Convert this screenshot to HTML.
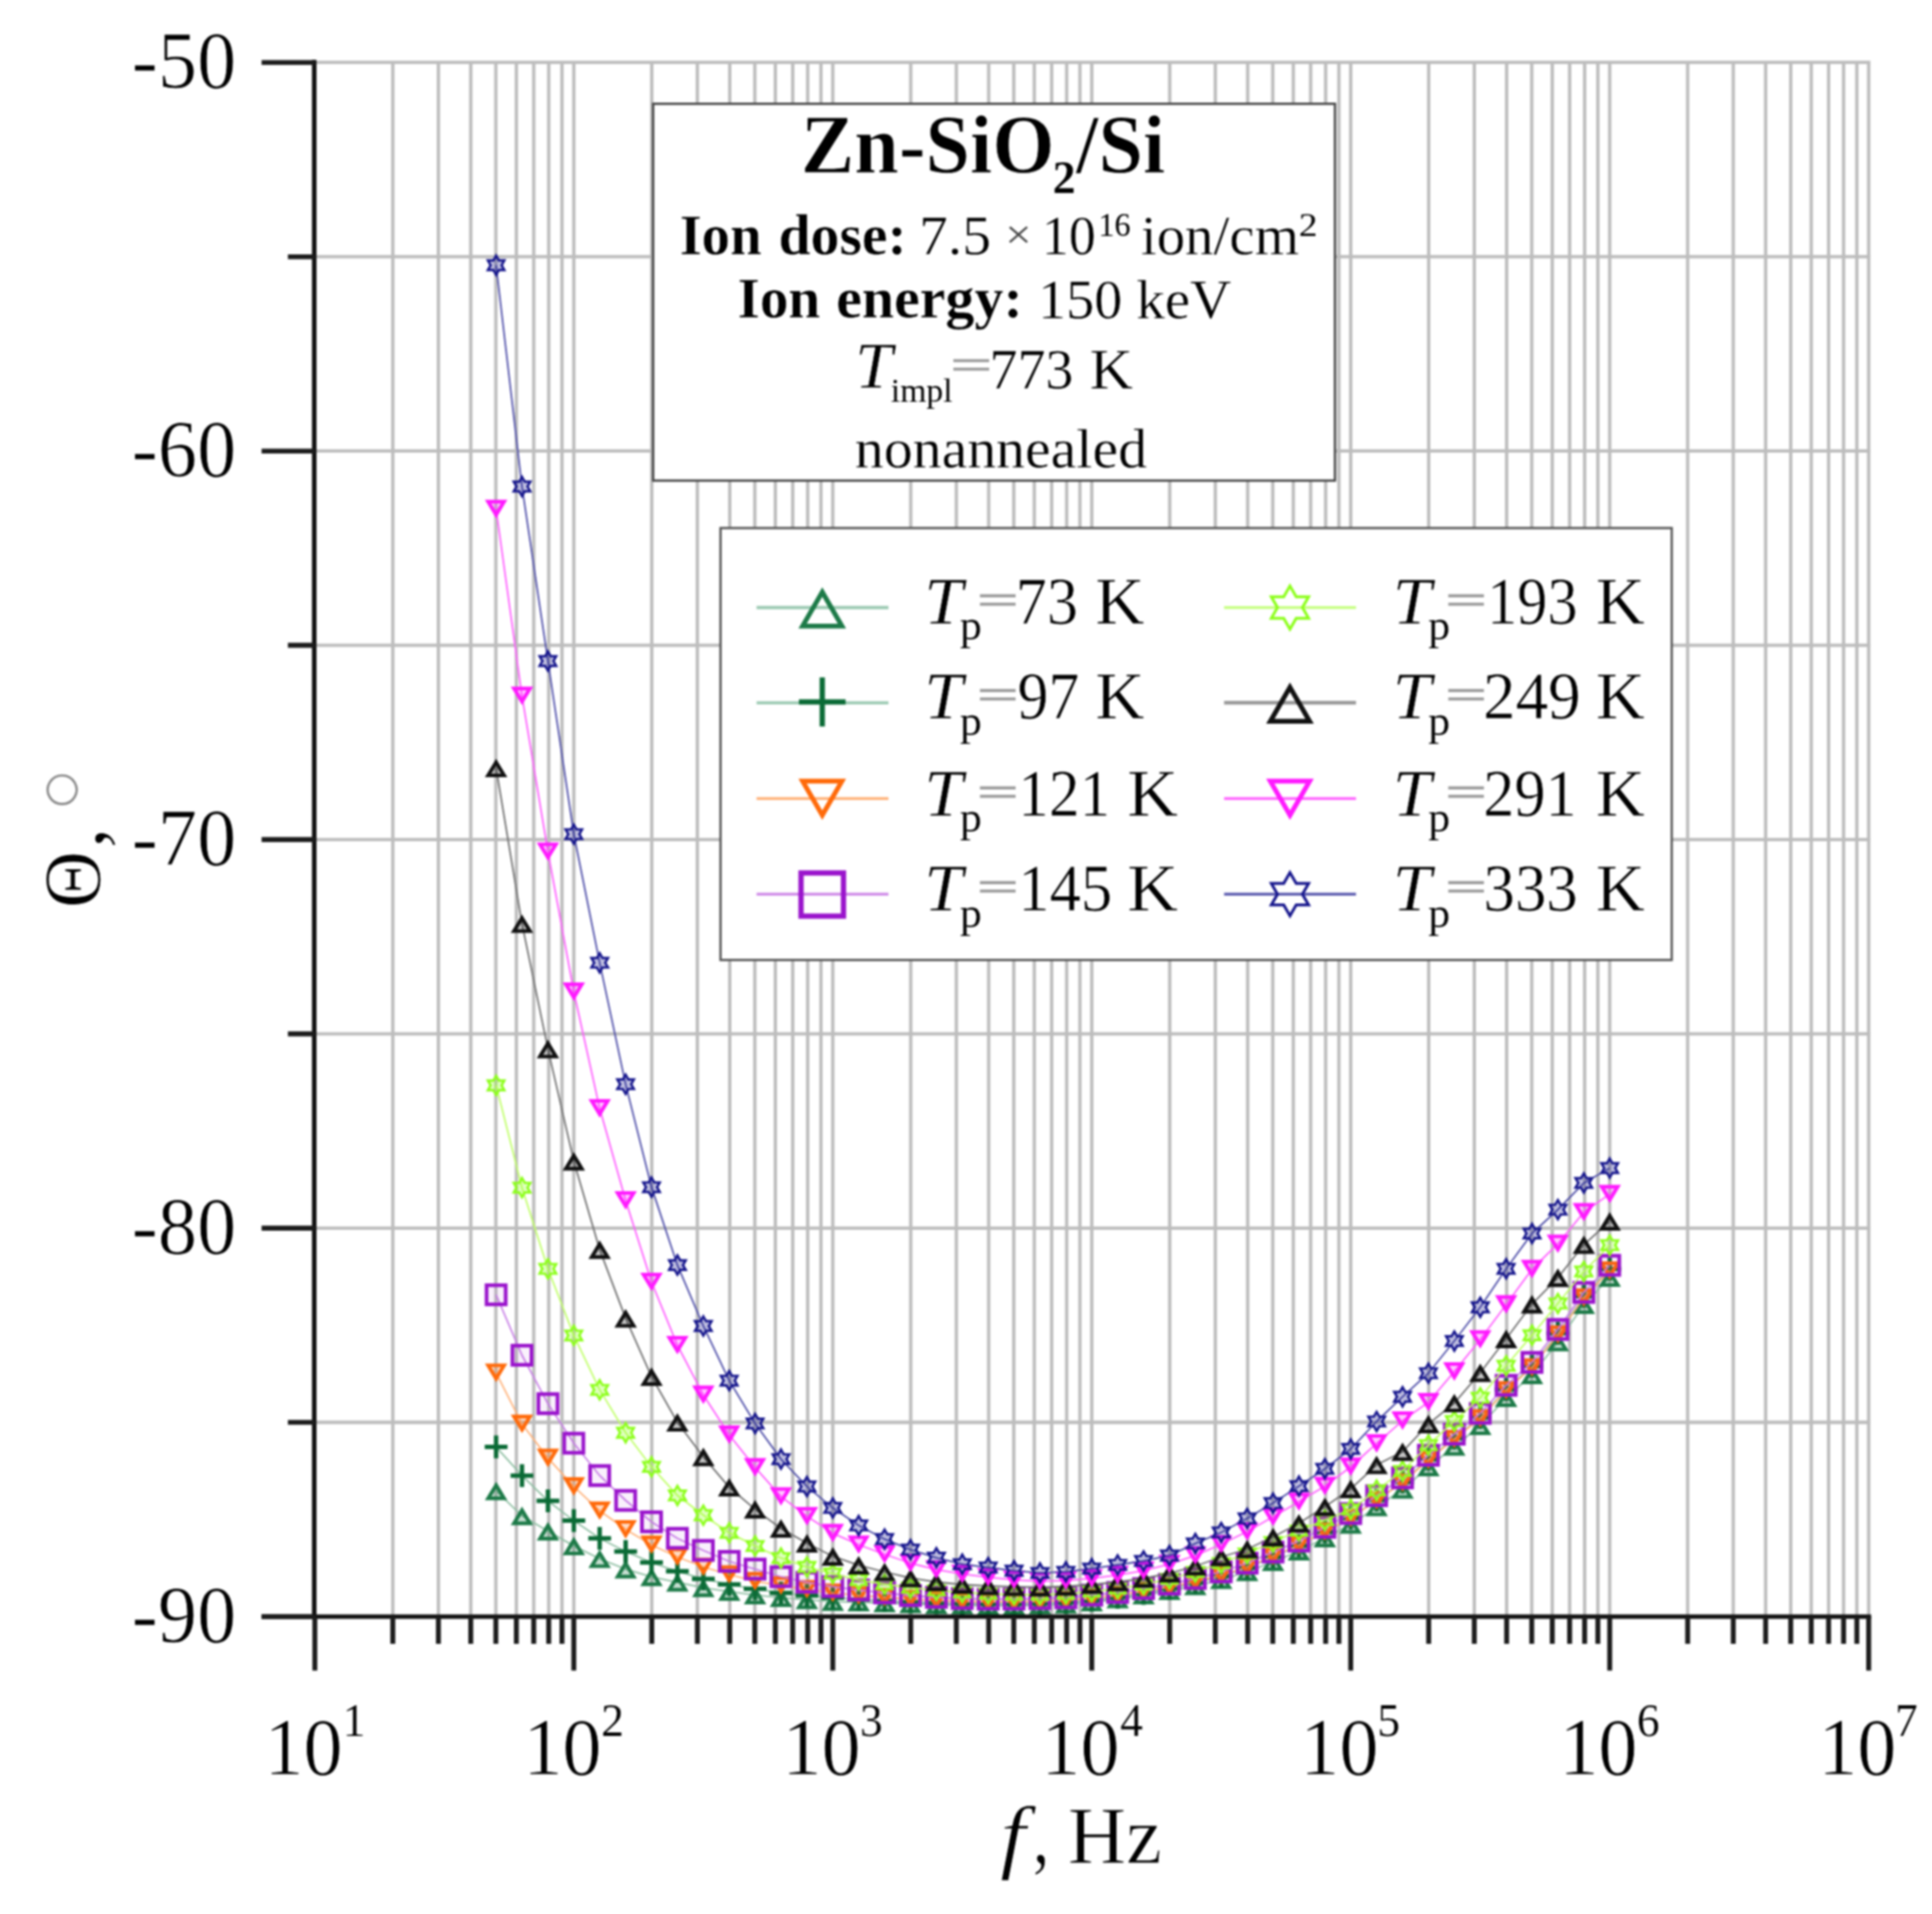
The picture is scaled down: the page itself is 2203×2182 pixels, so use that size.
<!DOCTYPE html><html><head><meta charset="utf-8"><title>Zn-SiO2/Si phase angle</title>
<style>html,body{margin:0;padding:0;background:#fff}svg{display:block}svg>g{filter:blur(1.0px)}</style></head><body>
<svg width="2203" height="2182" viewBox="0 0 2203 2182" font-family="'Liberation Serif','DejaVu Serif',serif">
<rect width="2203" height="2182" fill="#fff"/>
<g>
<path d="M359.0,69.2V1843.0M447.9,69.2V1843.0M499.9,69.2V1843.0M536.8,69.2V1843.0M565.4,69.2V1843.0M588.8,69.2V1843.0M608.6,69.2V1843.0M625.7,69.2V1843.0M640.8,69.2V1843.0M654.3,69.2V1843.0M743.2,69.2V1843.0M795.2,69.2V1843.0M832.1,69.2V1843.0M860.7,69.2V1843.0M884.1,69.2V1843.0M903.9,69.2V1843.0M921.0,69.2V1843.0M936.1,69.2V1843.0M949.6,69.2V1843.0M1038.5,69.2V1843.0M1090.5,69.2V1843.0M1127.4,69.2V1843.0M1156.0,69.2V1843.0M1179.4,69.2V1843.0M1199.2,69.2V1843.0M1216.3,69.2V1843.0M1231.4,69.2V1843.0M1244.9,69.2V1843.0M1333.8,69.2V1843.0M1385.8,69.2V1843.0M1422.7,69.2V1843.0M1451.3,69.2V1843.0M1474.7,69.2V1843.0M1494.5,69.2V1843.0M1511.6,69.2V1843.0M1526.7,69.2V1843.0M1540.2,69.2V1843.0M1629.1,69.2V1843.0M1681.1,69.2V1843.0M1718.0,69.2V1843.0M1746.6,69.2V1843.0M1770.0,69.2V1843.0M1789.8,69.2V1843.0M1806.9,69.2V1843.0M1822.0,69.2V1843.0M1835.5,69.2V1843.0M1924.4,69.2V1843.0M1976.4,69.2V1843.0M2013.3,69.2V1843.0M2041.9,69.2V1843.0M2065.3,69.2V1843.0M2085.1,69.2V1843.0M2102.2,69.2V1843.0M2117.3,69.2V1843.0M2130.8,69.2V1843.0M359.0,71.2H2132.8M359.0,292.7H2132.8M359.0,514.2H2132.8M359.0,735.6H2132.8M359.0,957.1H2132.8M359.0,1178.6H2132.8M359.0,1400.1H2132.8M359.0,1621.5H2132.8M359.0,1843.0H2132.8" stroke="#bdbdbd" stroke-width="3.8" fill="none"/>
<g><polyline points="565.7,1699.7 595.2,1728.1 624.8,1745.6 654.3,1762.4 683.8,1777.0 713.4,1788.8 742.9,1797.6 772.4,1803.8 802.0,1810.1 831.5,1814.4 861.0,1818.4 890.5,1821.4 920.1,1823.9 949.6,1825.9 979.1,1826.5 1008.7,1827.5 1038.2,1828.5 1067.7,1829.5 1097.2,1830.0 1126.8,1830.5 1156.3,1830.5 1185.8,1830.0 1215.4,1829.0 1244.9,1826.5 1274.4,1823.0 1304.0,1818.5 1333.5,1813.5 1363.0,1808.0 1392.5,1801.0 1422.1,1792.0 1451.6,1780.5 1481.1,1768.5 1510.7,1753.5 1540.2,1738.0 1569.7,1718.0 1599.3,1698.0 1628.8,1672.5 1658.3,1649.0 1687.9,1625.5 1717.4,1593.5 1746.9,1567.5 1776.4,1530.0 1806.0,1487.5 1835.5,1456.5" fill="none" stroke="#8fbfa3" stroke-width="1.8"/>
<path d="M565.7,1693.2L574.8,1708.2H556.6Z" fill="#1d7a48" fill-opacity="0.25" stroke="#1d7a48" stroke-width="4.2"/>
<path d="M595.2,1721.6L604.3,1736.6H586.1Z" fill="#1d7a48" fill-opacity="0.25" stroke="#1d7a48" stroke-width="4.2"/>
<path d="M624.8,1739.1L633.9,1754.1H615.7Z" fill="#1d7a48" fill-opacity="0.25" stroke="#1d7a48" stroke-width="4.2"/>
<path d="M654.3,1755.9L663.4,1771.0H645.2Z" fill="#1d7a48" fill-opacity="0.25" stroke="#1d7a48" stroke-width="4.2"/>
<path d="M683.8,1770.5L692.9,1785.5H674.7Z" fill="#1d7a48" fill-opacity="0.25" stroke="#1d7a48" stroke-width="4.2"/>
<path d="M713.4,1782.3L722.5,1797.3H704.3Z" fill="#1d7a48" fill-opacity="0.25" stroke="#1d7a48" stroke-width="4.2"/>
<path d="M742.9,1791.1L752.0,1806.1H733.8Z" fill="#1d7a48" fill-opacity="0.25" stroke="#1d7a48" stroke-width="4.2"/>
<path d="M772.4,1797.3L781.5,1812.3H763.3Z" fill="#1d7a48" fill-opacity="0.25" stroke="#1d7a48" stroke-width="4.2"/>
<path d="M802.0,1803.6L811.1,1818.6H792.9Z" fill="#1d7a48" fill-opacity="0.25" stroke="#1d7a48" stroke-width="4.2"/>
<path d="M831.5,1807.9L840.6,1823.0H822.4Z" fill="#1d7a48" fill-opacity="0.25" stroke="#1d7a48" stroke-width="4.2"/>
<path d="M861.0,1811.9L870.1,1827.0H851.9Z" fill="#1d7a48" fill-opacity="0.25" stroke="#1d7a48" stroke-width="4.2"/>
<path d="M890.5,1814.9L899.6,1830.0H881.4Z" fill="#1d7a48" fill-opacity="0.25" stroke="#1d7a48" stroke-width="4.2"/>
<path d="M920.1,1817.4L929.2,1832.5H911.0Z" fill="#1d7a48" fill-opacity="0.25" stroke="#1d7a48" stroke-width="4.2"/>
<path d="M949.6,1819.4L958.7,1834.5H940.5Z" fill="#1d7a48" fill-opacity="0.25" stroke="#1d7a48" stroke-width="4.2"/>
<path d="M979.1,1820.0L988.2,1835.0H970.0Z" fill="#1d7a48" fill-opacity="0.25" stroke="#1d7a48" stroke-width="4.2"/>
<path d="M1008.7,1821.0L1017.8,1836.0H999.6Z" fill="#1d7a48" fill-opacity="0.25" stroke="#1d7a48" stroke-width="4.2"/>
<path d="M1038.2,1822.0L1047.3,1837.0H1029.1Z" fill="#1d7a48" fill-opacity="0.25" stroke="#1d7a48" stroke-width="4.2"/>
<path d="M1067.7,1823.0L1076.8,1838.0H1058.6Z" fill="#1d7a48" fill-opacity="0.25" stroke="#1d7a48" stroke-width="4.2"/>
<path d="M1097.2,1823.5L1106.3,1838.5H1088.2Z" fill="#1d7a48" fill-opacity="0.25" stroke="#1d7a48" stroke-width="4.2"/>
<path d="M1126.8,1824.0L1135.9,1839.0H1117.7Z" fill="#1d7a48" fill-opacity="0.25" stroke="#1d7a48" stroke-width="4.2"/>
<path d="M1156.3,1824.0L1165.4,1839.0H1147.2Z" fill="#1d7a48" fill-opacity="0.25" stroke="#1d7a48" stroke-width="4.2"/>
<path d="M1185.8,1823.5L1194.9,1838.5H1176.7Z" fill="#1d7a48" fill-opacity="0.25" stroke="#1d7a48" stroke-width="4.2"/>
<path d="M1215.4,1822.5L1224.5,1837.5H1206.3Z" fill="#1d7a48" fill-opacity="0.25" stroke="#1d7a48" stroke-width="4.2"/>
<path d="M1244.9,1820.0L1254.0,1835.0H1235.8Z" fill="#1d7a48" fill-opacity="0.25" stroke="#1d7a48" stroke-width="4.2"/>
<path d="M1274.4,1816.5L1283.5,1831.5H1265.3Z" fill="#1d7a48" fill-opacity="0.25" stroke="#1d7a48" stroke-width="4.2"/>
<path d="M1304.0,1812.0L1313.1,1827.0H1294.9Z" fill="#1d7a48" fill-opacity="0.25" stroke="#1d7a48" stroke-width="4.2"/>
<path d="M1333.5,1807.0L1342.6,1822.0H1324.4Z" fill="#1d7a48" fill-opacity="0.25" stroke="#1d7a48" stroke-width="4.2"/>
<path d="M1363.0,1801.5L1372.1,1816.5H1353.9Z" fill="#1d7a48" fill-opacity="0.25" stroke="#1d7a48" stroke-width="4.2"/>
<path d="M1392.5,1794.5L1401.6,1809.5H1383.5Z" fill="#1d7a48" fill-opacity="0.25" stroke="#1d7a48" stroke-width="4.2"/>
<path d="M1422.1,1785.5L1431.2,1800.5H1413.0Z" fill="#1d7a48" fill-opacity="0.25" stroke="#1d7a48" stroke-width="4.2"/>
<path d="M1451.6,1774.0L1460.7,1789.0H1442.5Z" fill="#1d7a48" fill-opacity="0.25" stroke="#1d7a48" stroke-width="4.2"/>
<path d="M1481.1,1762.0L1490.2,1777.0H1472.0Z" fill="#1d7a48" fill-opacity="0.25" stroke="#1d7a48" stroke-width="4.2"/>
<path d="M1510.7,1747.0L1519.8,1762.0H1501.6Z" fill="#1d7a48" fill-opacity="0.25" stroke="#1d7a48" stroke-width="4.2"/>
<path d="M1540.2,1731.5L1549.3,1746.5H1531.1Z" fill="#1d7a48" fill-opacity="0.25" stroke="#1d7a48" stroke-width="4.2"/>
<path d="M1569.7,1711.5L1578.8,1726.5H1560.6Z" fill="#1d7a48" fill-opacity="0.25" stroke="#1d7a48" stroke-width="4.2"/>
<path d="M1599.3,1691.5L1608.4,1706.5H1590.2Z" fill="#1d7a48" fill-opacity="0.25" stroke="#1d7a48" stroke-width="4.2"/>
<path d="M1628.8,1666.0L1637.9,1681.0H1619.7Z" fill="#1d7a48" fill-opacity="0.25" stroke="#1d7a48" stroke-width="4.2"/>
<path d="M1658.3,1642.5L1667.4,1657.5H1649.2Z" fill="#1d7a48" fill-opacity="0.25" stroke="#1d7a48" stroke-width="4.2"/>
<path d="M1687.9,1619.0L1697.0,1634.0H1678.8Z" fill="#1d7a48" fill-opacity="0.25" stroke="#1d7a48" stroke-width="4.2"/>
<path d="M1717.4,1587.0L1726.5,1602.0H1708.3Z" fill="#1d7a48" fill-opacity="0.25" stroke="#1d7a48" stroke-width="4.2"/>
<path d="M1746.9,1561.0L1756.0,1576.0H1737.8Z" fill="#1d7a48" fill-opacity="0.25" stroke="#1d7a48" stroke-width="4.2"/>
<path d="M1776.4,1523.5L1785.5,1538.5H1767.3Z" fill="#1d7a48" fill-opacity="0.25" stroke="#1d7a48" stroke-width="4.2"/>
<path d="M1806.0,1481.0L1815.1,1496.0H1796.9Z" fill="#1d7a48" fill-opacity="0.25" stroke="#1d7a48" stroke-width="4.2"/>
<path d="M1835.5,1450.0L1844.6,1465.0H1826.4Z" fill="#1d7a48" fill-opacity="0.25" stroke="#1d7a48" stroke-width="4.2"/>
</g>
<g><polyline points="565.7,1649.6 595.2,1682.2 624.8,1711.0 654.3,1733.6 683.8,1753.7 713.4,1768.7 742.9,1781.3 772.4,1791.3 802.0,1800.0 831.5,1806.3 861.0,1811.3 890.5,1815.9 920.1,1818.9 949.6,1821.4 979.1,1823.4 1008.7,1825.0 1038.2,1826.5 1067.7,1827.5 1097.2,1828.0 1126.8,1828.5 1156.3,1828.5 1185.8,1828.0 1215.4,1827.0 1244.9,1824.5 1274.4,1821.0 1304.0,1816.5 1333.5,1811.0 1363.0,1804.5 1392.5,1797.0 1422.1,1787.5 1451.6,1775.0 1481.1,1762.0 1510.7,1746.5 1540.2,1730.5 1569.7,1710.0 1599.3,1689.5 1628.8,1663.5 1658.3,1639.5 1687.9,1616.0 1717.4,1584.0 1746.9,1557.5 1776.4,1520.0 1806.0,1477.7 1835.5,1446.8" fill="none" stroke="#8fbfa3" stroke-width="1.8"/>
<path d="M552.7,1649.6H578.7M565.7,1636.6V1662.6" fill="none" stroke="#0b6b36" stroke-width="5.0"/>
<path d="M582.2,1682.2H608.2M595.2,1669.2V1695.2" fill="none" stroke="#0b6b36" stroke-width="5.0"/>
<path d="M611.8,1711.0H637.8M624.8,1698.0V1724.0" fill="none" stroke="#0b6b36" stroke-width="5.0"/>
<path d="M641.3,1733.6H667.3M654.3,1720.6V1746.6" fill="none" stroke="#0b6b36" stroke-width="5.0"/>
<path d="M670.8,1753.7H696.8M683.8,1740.7V1766.7" fill="none" stroke="#0b6b36" stroke-width="5.0"/>
<path d="M700.4,1768.7H726.4M713.4,1755.7V1781.7" fill="none" stroke="#0b6b36" stroke-width="5.0"/>
<path d="M729.9,1781.3H755.9M742.9,1768.3V1794.3" fill="none" stroke="#0b6b36" stroke-width="5.0"/>
<path d="M759.4,1791.3H785.4M772.4,1778.3V1804.3" fill="none" stroke="#0b6b36" stroke-width="5.0"/>
<path d="M789.0,1800.0H815.0M802.0,1787.0V1813.0" fill="none" stroke="#0b6b36" stroke-width="5.0"/>
<path d="M818.5,1806.3H844.5M831.5,1793.3V1819.3" fill="none" stroke="#0b6b36" stroke-width="5.0"/>
<path d="M848.0,1811.3H874.0M861.0,1798.3V1824.3" fill="none" stroke="#0b6b36" stroke-width="5.0"/>
<path d="M877.5,1815.9H903.5M890.5,1802.9V1828.9" fill="none" stroke="#0b6b36" stroke-width="5.0"/>
<path d="M907.1,1818.9H933.1M920.1,1805.9V1831.9" fill="none" stroke="#0b6b36" stroke-width="5.0"/>
<path d="M936.6,1821.4H962.6M949.6,1808.4V1834.4" fill="none" stroke="#0b6b36" stroke-width="5.0"/>
<path d="M966.1,1823.4H992.1M979.1,1810.4V1836.4" fill="none" stroke="#0b6b36" stroke-width="5.0"/>
<path d="M995.7,1825.0H1021.7M1008.7,1812.0V1838.0" fill="none" stroke="#0b6b36" stroke-width="5.0"/>
<path d="M1025.2,1826.5H1051.2M1038.2,1813.5V1839.5" fill="none" stroke="#0b6b36" stroke-width="5.0"/>
<path d="M1054.7,1827.5H1080.7M1067.7,1814.5V1840.5" fill="none" stroke="#0b6b36" stroke-width="5.0"/>
<path d="M1084.2,1828.0H1110.2M1097.2,1815.0V1841.0" fill="none" stroke="#0b6b36" stroke-width="5.0"/>
<path d="M1113.8,1828.5H1139.8M1126.8,1815.5V1841.5" fill="none" stroke="#0b6b36" stroke-width="5.0"/>
<path d="M1143.3,1828.5H1169.3M1156.3,1815.5V1841.5" fill="none" stroke="#0b6b36" stroke-width="5.0"/>
<path d="M1172.8,1828.0H1198.8M1185.8,1815.0V1841.0" fill="none" stroke="#0b6b36" stroke-width="5.0"/>
<path d="M1202.4,1827.0H1228.4M1215.4,1814.0V1840.0" fill="none" stroke="#0b6b36" stroke-width="5.0"/>
<path d="M1231.9,1824.5H1257.9M1244.9,1811.5V1837.5" fill="none" stroke="#0b6b36" stroke-width="5.0"/>
<path d="M1261.4,1821.0H1287.4M1274.4,1808.0V1834.0" fill="none" stroke="#0b6b36" stroke-width="5.0"/>
<path d="M1291.0,1816.5H1317.0M1304.0,1803.5V1829.5" fill="none" stroke="#0b6b36" stroke-width="5.0"/>
<path d="M1320.5,1811.0H1346.5M1333.5,1798.0V1824.0" fill="none" stroke="#0b6b36" stroke-width="5.0"/>
<path d="M1350.0,1804.5H1376.0M1363.0,1791.5V1817.5" fill="none" stroke="#0b6b36" stroke-width="5.0"/>
<path d="M1379.5,1797.0H1405.5M1392.5,1784.0V1810.0" fill="none" stroke="#0b6b36" stroke-width="5.0"/>
<path d="M1409.1,1787.5H1435.1M1422.1,1774.5V1800.5" fill="none" stroke="#0b6b36" stroke-width="5.0"/>
<path d="M1438.6,1775.0H1464.6M1451.6,1762.0V1788.0" fill="none" stroke="#0b6b36" stroke-width="5.0"/>
<path d="M1468.1,1762.0H1494.1M1481.1,1749.0V1775.0" fill="none" stroke="#0b6b36" stroke-width="5.0"/>
<path d="M1497.7,1746.5H1523.7M1510.7,1733.5V1759.5" fill="none" stroke="#0b6b36" stroke-width="5.0"/>
<path d="M1527.2,1730.5H1553.2M1540.2,1717.5V1743.5" fill="none" stroke="#0b6b36" stroke-width="5.0"/>
<path d="M1556.7,1710.0H1582.7M1569.7,1697.0V1723.0" fill="none" stroke="#0b6b36" stroke-width="5.0"/>
<path d="M1586.3,1689.5H1612.3M1599.3,1676.5V1702.5" fill="none" stroke="#0b6b36" stroke-width="5.0"/>
<path d="M1615.8,1663.5H1641.8M1628.8,1650.5V1676.5" fill="none" stroke="#0b6b36" stroke-width="5.0"/>
<path d="M1645.3,1639.5H1671.3M1658.3,1626.5V1652.5" fill="none" stroke="#0b6b36" stroke-width="5.0"/>
<path d="M1674.9,1616.0H1700.9M1687.9,1603.0V1629.0" fill="none" stroke="#0b6b36" stroke-width="5.0"/>
<path d="M1704.4,1584.0H1730.4M1717.4,1571.0V1597.0" fill="none" stroke="#0b6b36" stroke-width="5.0"/>
<path d="M1733.9,1557.5H1759.9M1746.9,1544.5V1570.5" fill="none" stroke="#0b6b36" stroke-width="5.0"/>
<path d="M1763.4,1520.0H1789.4M1776.4,1507.0V1533.0" fill="none" stroke="#0b6b36" stroke-width="5.0"/>
<path d="M1793.0,1477.7H1819.0M1806.0,1464.7V1490.7" fill="none" stroke="#0b6b36" stroke-width="5.0"/>
<path d="M1822.5,1446.8H1848.5M1835.5,1433.8V1459.8" fill="none" stroke="#0b6b36" stroke-width="5.0"/>
</g>
<g><polyline points="565.7,1565.1 595.2,1623.3 624.8,1662.1 654.3,1694.7 683.8,1722.3 713.4,1743.6 742.9,1761.2 772.4,1775.0 802.0,1786.3 831.5,1795.0 861.0,1802.6 890.5,1807.6 920.1,1811.9 949.6,1815.9 979.1,1818.9 1008.7,1821.0 1038.2,1823.0 1067.7,1824.5 1097.2,1825.5 1126.8,1826.0 1156.3,1826.0 1185.8,1825.5 1215.4,1824.5 1244.9,1822.0 1274.4,1818.5 1304.0,1814.0 1333.5,1809.0 1363.0,1803.0 1392.5,1796.0 1422.1,1786.5 1451.6,1774.0 1481.1,1761.5 1510.7,1746.0 1540.2,1730.5 1569.7,1710.5 1599.3,1690.3 1628.8,1664.5 1658.3,1640.5 1687.9,1617.0 1717.4,1585.0 1746.9,1559.0 1776.4,1521.5 1806.0,1479.4 1835.5,1448.5" fill="none" stroke="#ffb27a" stroke-width="1.8"/>
<path d="M565.7,1571.6L574.8,1556.5H556.6Z" fill="#ff6a0a" fill-opacity="0.25" stroke="#ff6a0a" stroke-width="4.2"/>
<path d="M595.2,1629.8L604.3,1614.8H586.1Z" fill="#ff6a0a" fill-opacity="0.25" stroke="#ff6a0a" stroke-width="4.2"/>
<path d="M624.8,1668.6L633.9,1653.5H615.7Z" fill="#ff6a0a" fill-opacity="0.25" stroke="#ff6a0a" stroke-width="4.2"/>
<path d="M654.3,1701.2L663.4,1686.2H645.2Z" fill="#ff6a0a" fill-opacity="0.25" stroke="#ff6a0a" stroke-width="4.2"/>
<path d="M683.8,1728.8L692.9,1713.8H674.7Z" fill="#ff6a0a" fill-opacity="0.25" stroke="#ff6a0a" stroke-width="4.2"/>
<path d="M713.4,1750.1L722.5,1735.0H704.3Z" fill="#ff6a0a" fill-opacity="0.25" stroke="#ff6a0a" stroke-width="4.2"/>
<path d="M742.9,1767.7L752.0,1752.7H733.8Z" fill="#ff6a0a" fill-opacity="0.25" stroke="#ff6a0a" stroke-width="4.2"/>
<path d="M772.4,1781.5L781.5,1766.5H763.3Z" fill="#ff6a0a" fill-opacity="0.25" stroke="#ff6a0a" stroke-width="4.2"/>
<path d="M802.0,1792.8L811.1,1777.8H792.9Z" fill="#ff6a0a" fill-opacity="0.25" stroke="#ff6a0a" stroke-width="4.2"/>
<path d="M831.5,1801.5L840.6,1786.5H822.4Z" fill="#ff6a0a" fill-opacity="0.25" stroke="#ff6a0a" stroke-width="4.2"/>
<path d="M861.0,1809.1L870.1,1794.0H851.9Z" fill="#ff6a0a" fill-opacity="0.25" stroke="#ff6a0a" stroke-width="4.2"/>
<path d="M890.5,1814.1L899.6,1799.0H881.4Z" fill="#ff6a0a" fill-opacity="0.25" stroke="#ff6a0a" stroke-width="4.2"/>
<path d="M920.1,1818.4L929.2,1803.4H911.0Z" fill="#ff6a0a" fill-opacity="0.25" stroke="#ff6a0a" stroke-width="4.2"/>
<path d="M949.6,1822.4L958.7,1807.4H940.5Z" fill="#ff6a0a" fill-opacity="0.25" stroke="#ff6a0a" stroke-width="4.2"/>
<path d="M979.1,1825.4L988.2,1810.4H970.0Z" fill="#ff6a0a" fill-opacity="0.25" stroke="#ff6a0a" stroke-width="4.2"/>
<path d="M1008.7,1827.5L1017.8,1812.5H999.6Z" fill="#ff6a0a" fill-opacity="0.25" stroke="#ff6a0a" stroke-width="4.2"/>
<path d="M1038.2,1829.5L1047.3,1814.5H1029.1Z" fill="#ff6a0a" fill-opacity="0.25" stroke="#ff6a0a" stroke-width="4.2"/>
<path d="M1067.7,1831.0L1076.8,1816.0H1058.6Z" fill="#ff6a0a" fill-opacity="0.25" stroke="#ff6a0a" stroke-width="4.2"/>
<path d="M1097.2,1832.0L1106.3,1817.0H1088.2Z" fill="#ff6a0a" fill-opacity="0.25" stroke="#ff6a0a" stroke-width="4.2"/>
<path d="M1126.8,1832.5L1135.9,1817.5H1117.7Z" fill="#ff6a0a" fill-opacity="0.25" stroke="#ff6a0a" stroke-width="4.2"/>
<path d="M1156.3,1832.5L1165.4,1817.5H1147.2Z" fill="#ff6a0a" fill-opacity="0.25" stroke="#ff6a0a" stroke-width="4.2"/>
<path d="M1185.8,1832.0L1194.9,1817.0H1176.7Z" fill="#ff6a0a" fill-opacity="0.25" stroke="#ff6a0a" stroke-width="4.2"/>
<path d="M1215.4,1831.0L1224.5,1816.0H1206.3Z" fill="#ff6a0a" fill-opacity="0.25" stroke="#ff6a0a" stroke-width="4.2"/>
<path d="M1244.9,1828.5L1254.0,1813.5H1235.8Z" fill="#ff6a0a" fill-opacity="0.25" stroke="#ff6a0a" stroke-width="4.2"/>
<path d="M1274.4,1825.0L1283.5,1810.0H1265.3Z" fill="#ff6a0a" fill-opacity="0.25" stroke="#ff6a0a" stroke-width="4.2"/>
<path d="M1304.0,1820.5L1313.1,1805.5H1294.9Z" fill="#ff6a0a" fill-opacity="0.25" stroke="#ff6a0a" stroke-width="4.2"/>
<path d="M1333.5,1815.5L1342.6,1800.5H1324.4Z" fill="#ff6a0a" fill-opacity="0.25" stroke="#ff6a0a" stroke-width="4.2"/>
<path d="M1363.0,1809.5L1372.1,1794.5H1353.9Z" fill="#ff6a0a" fill-opacity="0.25" stroke="#ff6a0a" stroke-width="4.2"/>
<path d="M1392.5,1802.5L1401.6,1787.5H1383.5Z" fill="#ff6a0a" fill-opacity="0.25" stroke="#ff6a0a" stroke-width="4.2"/>
<path d="M1422.1,1793.0L1431.2,1778.0H1413.0Z" fill="#ff6a0a" fill-opacity="0.25" stroke="#ff6a0a" stroke-width="4.2"/>
<path d="M1451.6,1780.5L1460.7,1765.5H1442.5Z" fill="#ff6a0a" fill-opacity="0.25" stroke="#ff6a0a" stroke-width="4.2"/>
<path d="M1481.1,1768.0L1490.2,1753.0H1472.0Z" fill="#ff6a0a" fill-opacity="0.25" stroke="#ff6a0a" stroke-width="4.2"/>
<path d="M1510.7,1752.5L1519.8,1737.5H1501.6Z" fill="#ff6a0a" fill-opacity="0.25" stroke="#ff6a0a" stroke-width="4.2"/>
<path d="M1540.2,1737.0L1549.3,1722.0H1531.1Z" fill="#ff6a0a" fill-opacity="0.25" stroke="#ff6a0a" stroke-width="4.2"/>
<path d="M1569.7,1717.0L1578.8,1702.0H1560.6Z" fill="#ff6a0a" fill-opacity="0.25" stroke="#ff6a0a" stroke-width="4.2"/>
<path d="M1599.3,1696.8L1608.4,1681.8H1590.2Z" fill="#ff6a0a" fill-opacity="0.25" stroke="#ff6a0a" stroke-width="4.2"/>
<path d="M1628.8,1671.0L1637.9,1656.0H1619.7Z" fill="#ff6a0a" fill-opacity="0.25" stroke="#ff6a0a" stroke-width="4.2"/>
<path d="M1658.3,1647.0L1667.4,1632.0H1649.2Z" fill="#ff6a0a" fill-opacity="0.25" stroke="#ff6a0a" stroke-width="4.2"/>
<path d="M1687.9,1623.5L1697.0,1608.5H1678.8Z" fill="#ff6a0a" fill-opacity="0.25" stroke="#ff6a0a" stroke-width="4.2"/>
<path d="M1717.4,1591.5L1726.5,1576.5H1708.3Z" fill="#ff6a0a" fill-opacity="0.25" stroke="#ff6a0a" stroke-width="4.2"/>
<path d="M1746.9,1565.5L1756.0,1550.5H1737.8Z" fill="#ff6a0a" fill-opacity="0.25" stroke="#ff6a0a" stroke-width="4.2"/>
<path d="M1776.4,1528.0L1785.5,1513.0H1767.3Z" fill="#ff6a0a" fill-opacity="0.25" stroke="#ff6a0a" stroke-width="4.2"/>
<path d="M1806.0,1485.9L1815.1,1470.9H1796.9Z" fill="#ff6a0a" fill-opacity="0.25" stroke="#ff6a0a" stroke-width="4.2"/>
<path d="M1835.5,1455.0L1844.6,1440.0H1826.4Z" fill="#ff6a0a" fill-opacity="0.25" stroke="#ff6a0a" stroke-width="4.2"/>
</g>
<g><polyline points="565.7,1476.1 595.2,1545.0 624.8,1600.2 654.3,1645.3 683.8,1682.2 713.4,1710.5 742.9,1734.9 772.4,1753.7 802.0,1767.5 831.5,1780.0 861.0,1788.8 890.5,1797.5 920.1,1803.8 949.6,1808.8 979.1,1812.6 1008.7,1816.0 1038.2,1819.0 1067.7,1821.0 1097.2,1822.4 1126.8,1823.0 1156.3,1823.0 1185.8,1822.5 1215.4,1821.6 1244.9,1818.5 1274.4,1815.5 1304.0,1811.0 1333.5,1806.0 1363.0,1799.5 1392.5,1792.0 1422.1,1782.0 1451.6,1769.4 1481.1,1756.9 1510.7,1741.2 1540.2,1725.5 1569.7,1705.1 1599.3,1684.8 1628.8,1659.0 1658.3,1635.0 1687.9,1611.3 1717.4,1579.3 1746.9,1553.2 1776.4,1515.6 1806.0,1473.4 1835.5,1442.5" fill="none" stroke="#c77fe6" stroke-width="1.8"/>
<rect x="554.8" y="1465.2" width="21.8" height="21.8" fill="#9a14cc" fill-opacity="0.06" stroke="#9a14cc" stroke-width="4.2"/>
<rect x="584.3" y="1534.1" width="21.8" height="21.8" fill="#9a14cc" fill-opacity="0.06" stroke="#9a14cc" stroke-width="4.2"/>
<rect x="613.9" y="1589.3" width="21.8" height="21.8" fill="#9a14cc" fill-opacity="0.06" stroke="#9a14cc" stroke-width="4.2"/>
<rect x="643.4" y="1634.4" width="21.8" height="21.8" fill="#9a14cc" fill-opacity="0.06" stroke="#9a14cc" stroke-width="4.2"/>
<rect x="672.9" y="1671.3" width="21.8" height="21.8" fill="#9a14cc" fill-opacity="0.06" stroke="#9a14cc" stroke-width="4.2"/>
<rect x="702.5" y="1699.6" width="21.8" height="21.8" fill="#9a14cc" fill-opacity="0.06" stroke="#9a14cc" stroke-width="4.2"/>
<rect x="732.0" y="1724.0" width="21.8" height="21.8" fill="#9a14cc" fill-opacity="0.06" stroke="#9a14cc" stroke-width="4.2"/>
<rect x="761.5" y="1742.8" width="21.8" height="21.8" fill="#9a14cc" fill-opacity="0.06" stroke="#9a14cc" stroke-width="4.2"/>
<rect x="791.1" y="1756.6" width="21.8" height="21.8" fill="#9a14cc" fill-opacity="0.06" stroke="#9a14cc" stroke-width="4.2"/>
<rect x="820.6" y="1769.1" width="21.8" height="21.8" fill="#9a14cc" fill-opacity="0.06" stroke="#9a14cc" stroke-width="4.2"/>
<rect x="850.1" y="1777.9" width="21.8" height="21.8" fill="#9a14cc" fill-opacity="0.06" stroke="#9a14cc" stroke-width="4.2"/>
<rect x="879.6" y="1786.6" width="21.8" height="21.8" fill="#9a14cc" fill-opacity="0.06" stroke="#9a14cc" stroke-width="4.2"/>
<rect x="909.2" y="1792.9" width="21.8" height="21.8" fill="#9a14cc" fill-opacity="0.06" stroke="#9a14cc" stroke-width="4.2"/>
<rect x="938.7" y="1797.9" width="21.8" height="21.8" fill="#9a14cc" fill-opacity="0.06" stroke="#9a14cc" stroke-width="4.2"/>
<rect x="968.2" y="1801.7" width="21.8" height="21.8" fill="#9a14cc" fill-opacity="0.06" stroke="#9a14cc" stroke-width="4.2"/>
<rect x="997.8" y="1805.1" width="21.8" height="21.8" fill="#9a14cc" fill-opacity="0.06" stroke="#9a14cc" stroke-width="4.2"/>
<rect x="1027.3" y="1808.1" width="21.8" height="21.8" fill="#9a14cc" fill-opacity="0.06" stroke="#9a14cc" stroke-width="4.2"/>
<rect x="1056.8" y="1810.1" width="21.8" height="21.8" fill="#9a14cc" fill-opacity="0.06" stroke="#9a14cc" stroke-width="4.2"/>
<rect x="1086.3" y="1811.5" width="21.8" height="21.8" fill="#9a14cc" fill-opacity="0.06" stroke="#9a14cc" stroke-width="4.2"/>
<rect x="1115.9" y="1812.1" width="21.8" height="21.8" fill="#9a14cc" fill-opacity="0.06" stroke="#9a14cc" stroke-width="4.2"/>
<rect x="1145.4" y="1812.1" width="21.8" height="21.8" fill="#9a14cc" fill-opacity="0.06" stroke="#9a14cc" stroke-width="4.2"/>
<rect x="1174.9" y="1811.6" width="21.8" height="21.8" fill="#9a14cc" fill-opacity="0.06" stroke="#9a14cc" stroke-width="4.2"/>
<rect x="1204.5" y="1810.7" width="21.8" height="21.8" fill="#9a14cc" fill-opacity="0.06" stroke="#9a14cc" stroke-width="4.2"/>
<rect x="1234.0" y="1807.6" width="21.8" height="21.8" fill="#9a14cc" fill-opacity="0.06" stroke="#9a14cc" stroke-width="4.2"/>
<rect x="1263.5" y="1804.6" width="21.8" height="21.8" fill="#9a14cc" fill-opacity="0.06" stroke="#9a14cc" stroke-width="4.2"/>
<rect x="1293.1" y="1800.1" width="21.8" height="21.8" fill="#9a14cc" fill-opacity="0.06" stroke="#9a14cc" stroke-width="4.2"/>
<rect x="1322.6" y="1795.1" width="21.8" height="21.8" fill="#9a14cc" fill-opacity="0.06" stroke="#9a14cc" stroke-width="4.2"/>
<rect x="1352.1" y="1788.6" width="21.8" height="21.8" fill="#9a14cc" fill-opacity="0.06" stroke="#9a14cc" stroke-width="4.2"/>
<rect x="1381.6" y="1781.1" width="21.8" height="21.8" fill="#9a14cc" fill-opacity="0.06" stroke="#9a14cc" stroke-width="4.2"/>
<rect x="1411.2" y="1771.1" width="21.8" height="21.8" fill="#9a14cc" fill-opacity="0.06" stroke="#9a14cc" stroke-width="4.2"/>
<rect x="1440.7" y="1758.5" width="21.8" height="21.8" fill="#9a14cc" fill-opacity="0.06" stroke="#9a14cc" stroke-width="4.2"/>
<rect x="1470.2" y="1746.0" width="21.8" height="21.8" fill="#9a14cc" fill-opacity="0.06" stroke="#9a14cc" stroke-width="4.2"/>
<rect x="1499.8" y="1730.3" width="21.8" height="21.8" fill="#9a14cc" fill-opacity="0.06" stroke="#9a14cc" stroke-width="4.2"/>
<rect x="1529.3" y="1714.6" width="21.8" height="21.8" fill="#9a14cc" fill-opacity="0.06" stroke="#9a14cc" stroke-width="4.2"/>
<rect x="1558.8" y="1694.2" width="21.8" height="21.8" fill="#9a14cc" fill-opacity="0.06" stroke="#9a14cc" stroke-width="4.2"/>
<rect x="1588.4" y="1673.9" width="21.8" height="21.8" fill="#9a14cc" fill-opacity="0.06" stroke="#9a14cc" stroke-width="4.2"/>
<rect x="1617.9" y="1648.1" width="21.8" height="21.8" fill="#9a14cc" fill-opacity="0.06" stroke="#9a14cc" stroke-width="4.2"/>
<rect x="1647.4" y="1624.1" width="21.8" height="21.8" fill="#9a14cc" fill-opacity="0.06" stroke="#9a14cc" stroke-width="4.2"/>
<rect x="1677.0" y="1600.4" width="21.8" height="21.8" fill="#9a14cc" fill-opacity="0.06" stroke="#9a14cc" stroke-width="4.2"/>
<rect x="1706.5" y="1568.4" width="21.8" height="21.8" fill="#9a14cc" fill-opacity="0.06" stroke="#9a14cc" stroke-width="4.2"/>
<rect x="1736.0" y="1542.3" width="21.8" height="21.8" fill="#9a14cc" fill-opacity="0.06" stroke="#9a14cc" stroke-width="4.2"/>
<rect x="1765.5" y="1504.7" width="21.8" height="21.8" fill="#9a14cc" fill-opacity="0.06" stroke="#9a14cc" stroke-width="4.2"/>
<rect x="1795.1" y="1462.5" width="21.8" height="21.8" fill="#9a14cc" fill-opacity="0.06" stroke="#9a14cc" stroke-width="4.2"/>
<rect x="1824.6" y="1431.6" width="21.8" height="21.8" fill="#9a14cc" fill-opacity="0.06" stroke="#9a14cc" stroke-width="4.2"/>
</g>
<g><polyline points="565.7,1237.3 595.2,1353.9 624.8,1446.5 654.3,1522.4 683.8,1584.4 713.4,1633.3 742.9,1672.2 772.4,1704.8 802.0,1727.3 831.5,1747.4 861.0,1762.4 890.5,1776.2 920.1,1786.3 949.6,1793.8 979.1,1801.3 1008.7,1806.0 1038.2,1810.0 1067.7,1813.0 1097.2,1815.5 1126.8,1817.0 1156.3,1818.0 1185.8,1818.0 1215.4,1817.0 1244.9,1814.5 1274.4,1811.0 1304.0,1806.5 1333.5,1800.0 1363.0,1792.0 1392.5,1782.0 1422.1,1771.0 1451.6,1758.0 1481.1,1745.0 1510.7,1733.0 1540.2,1720.8 1569.7,1698.9 1599.3,1676.9 1628.8,1647.5 1658.3,1620.0 1687.9,1593.5 1717.4,1557.0 1746.9,1522.2 1776.4,1486.0 1806.0,1449.5 1835.5,1419.5" fill="none" stroke="#bfff66" stroke-width="1.8"/>
<polygon points="565.7,1226.4 568.9,1231.8 575.1,1231.8 572.0,1237.3 575.1,1242.8 568.9,1242.8 565.7,1248.2 562.6,1242.8 556.3,1242.8 559.4,1237.3 556.3,1231.8 562.6,1231.8" fill="#8cff1a" fill-opacity="0.28" stroke="#8cff1a" stroke-width="2.7"/>
<polygon points="595.2,1343.0 598.4,1348.5 604.7,1348.5 601.5,1353.9 604.7,1359.4 598.4,1359.4 595.2,1364.8 592.1,1359.4 585.8,1359.4 588.9,1353.9 585.8,1348.5 592.1,1348.5" fill="#8cff1a" fill-opacity="0.28" stroke="#8cff1a" stroke-width="2.7"/>
<polygon points="624.8,1435.6 627.9,1441.0 634.2,1441.0 631.1,1446.5 634.2,1452.0 627.9,1452.0 624.8,1457.4 621.6,1452.0 615.3,1452.0 618.5,1446.5 615.3,1441.0 621.6,1441.0" fill="#8cff1a" fill-opacity="0.28" stroke="#8cff1a" stroke-width="2.7"/>
<polygon points="654.3,1511.5 657.4,1517.0 663.7,1517.0 660.6,1522.4 663.7,1527.9 657.4,1527.9 654.3,1533.3 651.2,1527.9 644.9,1527.9 648.0,1522.4 644.9,1517.0 651.2,1517.0" fill="#8cff1a" fill-opacity="0.28" stroke="#8cff1a" stroke-width="2.7"/>
<polygon points="683.8,1573.5 687.0,1579.0 693.3,1579.0 690.1,1584.4 693.3,1589.9 687.0,1589.9 683.8,1595.3 680.7,1589.9 674.4,1589.9 677.5,1584.4 674.4,1579.0 680.7,1579.0" fill="#8cff1a" fill-opacity="0.28" stroke="#8cff1a" stroke-width="2.7"/>
<polygon points="713.4,1622.4 716.5,1627.8 722.8,1627.8 719.7,1633.3 722.8,1638.8 716.5,1638.8 713.4,1644.2 710.2,1638.8 703.9,1638.8 707.1,1633.3 703.9,1627.8 710.2,1627.8" fill="#8cff1a" fill-opacity="0.28" stroke="#8cff1a" stroke-width="2.7"/>
<polygon points="742.9,1661.3 746.0,1666.8 752.3,1666.8 749.2,1672.2 752.3,1677.7 746.0,1677.7 742.9,1683.1 739.7,1677.7 733.5,1677.7 736.6,1672.2 733.5,1666.8 739.7,1666.8" fill="#8cff1a" fill-opacity="0.28" stroke="#8cff1a" stroke-width="2.7"/>
<polygon points="772.4,1693.9 775.6,1699.3 781.9,1699.3 778.7,1704.8 781.9,1710.2 775.6,1710.2 772.4,1715.7 769.3,1710.2 763.0,1710.2 766.1,1704.8 763.0,1699.3 769.3,1699.3" fill="#8cff1a" fill-opacity="0.28" stroke="#8cff1a" stroke-width="2.7"/>
<polygon points="802.0,1716.4 805.1,1721.8 811.4,1721.8 808.2,1727.3 811.4,1732.8 805.1,1732.8 802.0,1738.2 798.8,1732.8 792.5,1732.8 795.7,1727.3 792.5,1721.8 798.8,1721.8" fill="#8cff1a" fill-opacity="0.28" stroke="#8cff1a" stroke-width="2.7"/>
<polygon points="831.5,1736.5 834.6,1742.0 840.9,1742.0 837.8,1747.4 840.9,1752.9 834.6,1752.9 831.5,1758.3 828.3,1752.9 822.0,1752.9 825.2,1747.4 822.0,1742.0 828.3,1742.0" fill="#8cff1a" fill-opacity="0.28" stroke="#8cff1a" stroke-width="2.7"/>
<polygon points="861.0,1751.5 864.2,1757.0 870.4,1757.0 867.3,1762.4 870.4,1767.9 864.2,1767.9 861.0,1773.3 857.9,1767.9 851.6,1767.9 854.7,1762.4 851.6,1757.0 857.9,1757.0" fill="#8cff1a" fill-opacity="0.28" stroke="#8cff1a" stroke-width="2.7"/>
<polygon points="890.5,1765.3 893.7,1770.8 900.0,1770.8 896.8,1776.2 900.0,1781.7 893.7,1781.7 890.5,1787.1 887.4,1781.7 881.1,1781.7 884.2,1776.2 881.1,1770.8 887.4,1770.8" fill="#8cff1a" fill-opacity="0.28" stroke="#8cff1a" stroke-width="2.7"/>
<polygon points="920.1,1775.4 923.2,1780.8 929.5,1780.8 926.4,1786.3 929.5,1791.8 923.2,1791.8 920.1,1797.2 916.9,1791.8 910.6,1791.8 913.8,1786.3 910.6,1780.8 916.9,1780.8" fill="#8cff1a" fill-opacity="0.28" stroke="#8cff1a" stroke-width="2.7"/>
<polygon points="949.6,1782.9 952.7,1788.3 959.0,1788.3 955.9,1793.8 959.0,1799.2 952.7,1799.2 949.6,1804.7 946.5,1799.2 940.2,1799.2 943.3,1793.8 940.2,1788.3 946.5,1788.3" fill="#8cff1a" fill-opacity="0.28" stroke="#8cff1a" stroke-width="2.7"/>
<polygon points="979.1,1790.4 982.3,1795.8 988.6,1795.8 985.4,1801.3 988.6,1806.8 982.3,1806.8 979.1,1812.2 976.0,1806.8 969.7,1806.8 972.8,1801.3 969.7,1795.8 976.0,1795.8" fill="#8cff1a" fill-opacity="0.28" stroke="#8cff1a" stroke-width="2.7"/>
<polygon points="1008.7,1795.1 1011.8,1800.5 1018.1,1800.5 1015.0,1806.0 1018.1,1811.5 1011.8,1811.5 1008.7,1816.9 1005.5,1811.5 999.2,1811.5 1002.4,1806.0 999.2,1800.5 1005.5,1800.5" fill="#8cff1a" fill-opacity="0.28" stroke="#8cff1a" stroke-width="2.7"/>
<polygon points="1038.2,1799.1 1041.3,1804.5 1047.6,1804.5 1044.5,1810.0 1047.6,1815.5 1041.3,1815.5 1038.2,1820.9 1035.0,1815.5 1028.8,1815.5 1031.9,1810.0 1028.8,1804.5 1035.0,1804.5" fill="#8cff1a" fill-opacity="0.28" stroke="#8cff1a" stroke-width="2.7"/>
<polygon points="1067.7,1802.1 1070.9,1807.5 1077.2,1807.5 1074.0,1813.0 1077.2,1818.5 1070.9,1818.5 1067.7,1823.9 1064.6,1818.5 1058.3,1818.5 1061.4,1813.0 1058.3,1807.5 1064.6,1807.5" fill="#8cff1a" fill-opacity="0.28" stroke="#8cff1a" stroke-width="2.7"/>
<polygon points="1097.2,1804.6 1100.4,1810.0 1106.7,1810.0 1103.5,1815.5 1106.7,1821.0 1100.4,1821.0 1097.2,1826.4 1094.1,1821.0 1087.8,1821.0 1091.0,1815.5 1087.8,1810.0 1094.1,1810.0" fill="#8cff1a" fill-opacity="0.28" stroke="#8cff1a" stroke-width="2.7"/>
<polygon points="1126.8,1806.1 1129.9,1811.5 1136.2,1811.5 1133.1,1817.0 1136.2,1822.5 1129.9,1822.5 1126.8,1827.9 1123.6,1822.5 1117.3,1822.5 1120.5,1817.0 1117.3,1811.5 1123.6,1811.5" fill="#8cff1a" fill-opacity="0.28" stroke="#8cff1a" stroke-width="2.7"/>
<polygon points="1156.3,1807.1 1159.5,1812.5 1165.7,1812.5 1162.6,1818.0 1165.7,1823.5 1159.5,1823.5 1156.3,1828.9 1153.2,1823.5 1146.9,1823.5 1150.0,1818.0 1146.9,1812.5 1153.2,1812.5" fill="#8cff1a" fill-opacity="0.28" stroke="#8cff1a" stroke-width="2.7"/>
<polygon points="1185.8,1807.1 1189.0,1812.5 1195.3,1812.5 1192.1,1818.0 1195.3,1823.5 1189.0,1823.5 1185.8,1828.9 1182.7,1823.5 1176.4,1823.5 1179.5,1818.0 1176.4,1812.5 1182.7,1812.5" fill="#8cff1a" fill-opacity="0.28" stroke="#8cff1a" stroke-width="2.7"/>
<polygon points="1215.4,1806.1 1218.5,1811.5 1224.8,1811.5 1221.7,1817.0 1224.8,1822.5 1218.5,1822.5 1215.4,1827.9 1212.2,1822.5 1205.9,1822.5 1209.1,1817.0 1205.9,1811.5 1212.2,1811.5" fill="#8cff1a" fill-opacity="0.28" stroke="#8cff1a" stroke-width="2.7"/>
<polygon points="1244.9,1803.6 1248.0,1809.0 1254.3,1809.0 1251.2,1814.5 1254.3,1820.0 1248.0,1820.0 1244.9,1825.4 1241.8,1820.0 1235.5,1820.0 1238.6,1814.5 1235.5,1809.0 1241.8,1809.0" fill="#8cff1a" fill-opacity="0.28" stroke="#8cff1a" stroke-width="2.7"/>
<polygon points="1274.4,1800.1 1277.6,1805.5 1283.9,1805.5 1280.7,1811.0 1283.9,1816.5 1277.6,1816.5 1274.4,1821.9 1271.3,1816.5 1265.0,1816.5 1268.1,1811.0 1265.0,1805.5 1271.3,1805.5" fill="#8cff1a" fill-opacity="0.28" stroke="#8cff1a" stroke-width="2.7"/>
<polygon points="1304.0,1795.6 1307.1,1801.0 1313.4,1801.0 1310.3,1806.5 1313.4,1812.0 1307.1,1812.0 1304.0,1817.4 1300.8,1812.0 1294.5,1812.0 1297.7,1806.5 1294.5,1801.0 1300.8,1801.0" fill="#8cff1a" fill-opacity="0.28" stroke="#8cff1a" stroke-width="2.7"/>
<polygon points="1333.5,1789.1 1336.6,1794.5 1342.9,1794.5 1339.8,1800.0 1342.9,1805.5 1336.6,1805.5 1333.5,1810.9 1330.3,1805.5 1324.1,1805.5 1327.2,1800.0 1324.1,1794.5 1330.3,1794.5" fill="#8cff1a" fill-opacity="0.28" stroke="#8cff1a" stroke-width="2.7"/>
<polygon points="1363.0,1781.1 1366.2,1786.5 1372.5,1786.5 1369.3,1792.0 1372.5,1797.5 1366.2,1797.5 1363.0,1802.9 1359.9,1797.5 1353.6,1797.5 1356.7,1792.0 1353.6,1786.5 1359.9,1786.5" fill="#8cff1a" fill-opacity="0.28" stroke="#8cff1a" stroke-width="2.7"/>
<polygon points="1392.5,1771.1 1395.7,1776.5 1402.0,1776.5 1398.8,1782.0 1402.0,1787.5 1395.7,1787.5 1392.5,1792.9 1389.4,1787.5 1383.1,1787.5 1386.3,1782.0 1383.1,1776.5 1389.4,1776.5" fill="#8cff1a" fill-opacity="0.28" stroke="#8cff1a" stroke-width="2.7"/>
<polygon points="1422.1,1760.1 1425.2,1765.5 1431.5,1765.5 1428.4,1771.0 1431.5,1776.5 1425.2,1776.5 1422.1,1781.9 1418.9,1776.5 1412.6,1776.5 1415.8,1771.0 1412.6,1765.5 1418.9,1765.5" fill="#8cff1a" fill-opacity="0.28" stroke="#8cff1a" stroke-width="2.7"/>
<polygon points="1451.6,1747.1 1454.8,1752.5 1461.0,1752.5 1457.9,1758.0 1461.0,1763.5 1454.8,1763.5 1451.6,1768.9 1448.5,1763.5 1442.2,1763.5 1445.3,1758.0 1442.2,1752.5 1448.5,1752.5" fill="#8cff1a" fill-opacity="0.28" stroke="#8cff1a" stroke-width="2.7"/>
<polygon points="1481.1,1734.1 1484.3,1739.5 1490.6,1739.5 1487.4,1745.0 1490.6,1750.5 1484.3,1750.5 1481.1,1755.9 1478.0,1750.5 1471.7,1750.5 1474.8,1745.0 1471.7,1739.5 1478.0,1739.5" fill="#8cff1a" fill-opacity="0.28" stroke="#8cff1a" stroke-width="2.7"/>
<polygon points="1510.7,1722.1 1513.8,1727.5 1520.1,1727.5 1517.0,1733.0 1520.1,1738.5 1513.8,1738.5 1510.7,1743.9 1507.5,1738.5 1501.2,1738.5 1504.4,1733.0 1501.2,1727.5 1507.5,1727.5" fill="#8cff1a" fill-opacity="0.28" stroke="#8cff1a" stroke-width="2.7"/>
<polygon points="1540.2,1709.9 1543.3,1715.3 1549.6,1715.3 1546.5,1720.8 1549.6,1726.2 1543.3,1726.2 1540.2,1731.7 1537.1,1726.2 1530.8,1726.2 1533.9,1720.8 1530.8,1715.3 1537.1,1715.3" fill="#8cff1a" fill-opacity="0.28" stroke="#8cff1a" stroke-width="2.7"/>
<polygon points="1569.7,1688.0 1572.9,1693.5 1579.2,1693.5 1576.0,1698.9 1579.2,1704.4 1572.9,1704.4 1569.7,1709.8 1566.6,1704.4 1560.3,1704.4 1563.4,1698.9 1560.3,1693.5 1566.6,1693.5" fill="#8cff1a" fill-opacity="0.28" stroke="#8cff1a" stroke-width="2.7"/>
<polygon points="1599.3,1666.0 1602.4,1671.5 1608.7,1671.5 1605.6,1676.9 1608.7,1682.4 1602.4,1682.4 1599.3,1687.8 1596.1,1682.4 1589.8,1682.4 1593.0,1676.9 1589.8,1671.5 1596.1,1671.5" fill="#8cff1a" fill-opacity="0.28" stroke="#8cff1a" stroke-width="2.7"/>
<polygon points="1628.8,1636.6 1631.9,1642.0 1638.2,1642.0 1635.1,1647.5 1638.2,1653.0 1631.9,1653.0 1628.8,1658.4 1625.6,1653.0 1619.4,1653.0 1622.5,1647.5 1619.4,1642.0 1625.6,1642.0" fill="#8cff1a" fill-opacity="0.28" stroke="#8cff1a" stroke-width="2.7"/>
<polygon points="1658.3,1609.1 1661.5,1614.5 1667.8,1614.5 1664.6,1620.0 1667.8,1625.5 1661.5,1625.5 1658.3,1630.9 1655.2,1625.5 1648.9,1625.5 1652.0,1620.0 1648.9,1614.5 1655.2,1614.5" fill="#8cff1a" fill-opacity="0.28" stroke="#8cff1a" stroke-width="2.7"/>
<polygon points="1687.9,1582.6 1691.0,1588.0 1697.3,1588.0 1694.1,1593.5 1697.3,1599.0 1691.0,1599.0 1687.9,1604.4 1684.7,1599.0 1678.4,1599.0 1681.6,1593.5 1678.4,1588.0 1684.7,1588.0" fill="#8cff1a" fill-opacity="0.28" stroke="#8cff1a" stroke-width="2.7"/>
<polygon points="1717.4,1546.1 1720.5,1551.5 1726.8,1551.5 1723.7,1557.0 1726.8,1562.5 1720.5,1562.5 1717.4,1567.9 1714.2,1562.5 1707.9,1562.5 1711.1,1557.0 1707.9,1551.5 1714.2,1551.5" fill="#8cff1a" fill-opacity="0.28" stroke="#8cff1a" stroke-width="2.7"/>
<polygon points="1746.9,1511.3 1750.1,1516.8 1756.3,1516.8 1753.2,1522.2 1756.3,1527.7 1750.1,1527.7 1746.9,1533.1 1743.8,1527.7 1737.5,1527.7 1740.6,1522.2 1737.5,1516.8 1743.8,1516.8" fill="#8cff1a" fill-opacity="0.28" stroke="#8cff1a" stroke-width="2.7"/>
<polygon points="1776.4,1475.1 1779.6,1480.5 1785.9,1480.5 1782.7,1486.0 1785.9,1491.5 1779.6,1491.5 1776.4,1496.9 1773.3,1491.5 1767.0,1491.5 1770.1,1486.0 1767.0,1480.5 1773.3,1480.5" fill="#8cff1a" fill-opacity="0.28" stroke="#8cff1a" stroke-width="2.7"/>
<polygon points="1806.0,1438.6 1809.1,1444.0 1815.4,1444.0 1812.3,1449.5 1815.4,1455.0 1809.1,1455.0 1806.0,1460.4 1802.8,1455.0 1796.5,1455.0 1799.7,1449.5 1796.5,1444.0 1802.8,1444.0" fill="#8cff1a" fill-opacity="0.28" stroke="#8cff1a" stroke-width="2.7"/>
<polygon points="1835.5,1408.6 1838.6,1414.0 1844.9,1414.0 1841.8,1419.5 1844.9,1425.0 1838.6,1425.0 1835.5,1430.4 1832.4,1425.0 1826.1,1425.0 1829.2,1419.5 1826.1,1414.0 1832.4,1414.0" fill="#8cff1a" fill-opacity="0.28" stroke="#8cff1a" stroke-width="2.7"/>
</g>
<g><polyline points="565.7,875.5 595.2,1053.0 624.8,1195.9 654.3,1323.8 683.8,1424.6 713.4,1502.9 742.9,1569.3 772.4,1621.5 802.0,1660.9 831.5,1695.5 861.0,1720.6 890.5,1742.4 920.1,1759.2 949.6,1774.2 979.1,1784.4 1008.7,1792.0 1038.2,1799.0 1067.7,1803.5 1097.2,1806.5 1126.8,1808.0 1156.3,1809.0 1185.8,1809.5 1215.4,1808.5 1244.9,1806.5 1274.4,1803.5 1304.0,1799.5 1333.5,1793.5 1363.0,1785.5 1392.5,1775.0 1422.1,1766.0 1451.6,1752.2 1481.1,1736.5 1510.7,1717.7 1540.2,1697.3 1569.7,1670.0 1599.3,1655.0 1628.8,1623.3 1658.3,1599.5 1687.9,1565.0 1717.4,1526.3 1746.9,1486.8 1776.4,1456.6 1806.0,1419.0 1835.5,1392.3" fill="none" stroke="#6e6e6e" stroke-width="1.8"/>
<path d="M565.7,869.0L574.8,884.0H556.6Z" fill="#111111" fill-opacity="0.25" stroke="#111111" stroke-width="4.2"/>
<path d="M595.2,1046.5L604.3,1061.5H586.1Z" fill="#111111" fill-opacity="0.25" stroke="#111111" stroke-width="4.2"/>
<path d="M624.8,1189.4L633.9,1204.5H615.7Z" fill="#111111" fill-opacity="0.25" stroke="#111111" stroke-width="4.2"/>
<path d="M654.3,1317.3L663.4,1332.3H645.2Z" fill="#111111" fill-opacity="0.25" stroke="#111111" stroke-width="4.2"/>
<path d="M683.8,1418.1L692.9,1433.1H674.7Z" fill="#111111" fill-opacity="0.25" stroke="#111111" stroke-width="4.2"/>
<path d="M713.4,1496.4L722.5,1511.5H704.3Z" fill="#111111" fill-opacity="0.25" stroke="#111111" stroke-width="4.2"/>
<path d="M742.9,1562.8L752.0,1577.8H733.8Z" fill="#111111" fill-opacity="0.25" stroke="#111111" stroke-width="4.2"/>
<path d="M772.4,1615.0L781.5,1630.0H763.3Z" fill="#111111" fill-opacity="0.25" stroke="#111111" stroke-width="4.2"/>
<path d="M802.0,1654.4L811.1,1669.5H792.9Z" fill="#111111" fill-opacity="0.25" stroke="#111111" stroke-width="4.2"/>
<path d="M831.5,1689.0L840.6,1704.0H822.4Z" fill="#111111" fill-opacity="0.25" stroke="#111111" stroke-width="4.2"/>
<path d="M861.0,1714.1L870.1,1729.1H851.9Z" fill="#111111" fill-opacity="0.25" stroke="#111111" stroke-width="4.2"/>
<path d="M890.5,1735.9L899.6,1751.0H881.4Z" fill="#111111" fill-opacity="0.25" stroke="#111111" stroke-width="4.2"/>
<path d="M920.1,1752.7L929.2,1767.8H911.0Z" fill="#111111" fill-opacity="0.25" stroke="#111111" stroke-width="4.2"/>
<path d="M949.6,1767.7L958.7,1782.8H940.5Z" fill="#111111" fill-opacity="0.25" stroke="#111111" stroke-width="4.2"/>
<path d="M979.1,1777.9L988.2,1793.0H970.0Z" fill="#111111" fill-opacity="0.25" stroke="#111111" stroke-width="4.2"/>
<path d="M1008.7,1785.5L1017.8,1800.5H999.6Z" fill="#111111" fill-opacity="0.25" stroke="#111111" stroke-width="4.2"/>
<path d="M1038.2,1792.5L1047.3,1807.5H1029.1Z" fill="#111111" fill-opacity="0.25" stroke="#111111" stroke-width="4.2"/>
<path d="M1067.7,1797.0L1076.8,1812.0H1058.6Z" fill="#111111" fill-opacity="0.25" stroke="#111111" stroke-width="4.2"/>
<path d="M1097.2,1800.0L1106.3,1815.0H1088.2Z" fill="#111111" fill-opacity="0.25" stroke="#111111" stroke-width="4.2"/>
<path d="M1126.8,1801.5L1135.9,1816.5H1117.7Z" fill="#111111" fill-opacity="0.25" stroke="#111111" stroke-width="4.2"/>
<path d="M1156.3,1802.5L1165.4,1817.5H1147.2Z" fill="#111111" fill-opacity="0.25" stroke="#111111" stroke-width="4.2"/>
<path d="M1185.8,1803.0L1194.9,1818.0H1176.7Z" fill="#111111" fill-opacity="0.25" stroke="#111111" stroke-width="4.2"/>
<path d="M1215.4,1802.0L1224.5,1817.0H1206.3Z" fill="#111111" fill-opacity="0.25" stroke="#111111" stroke-width="4.2"/>
<path d="M1244.9,1800.0L1254.0,1815.0H1235.8Z" fill="#111111" fill-opacity="0.25" stroke="#111111" stroke-width="4.2"/>
<path d="M1274.4,1797.0L1283.5,1812.0H1265.3Z" fill="#111111" fill-opacity="0.25" stroke="#111111" stroke-width="4.2"/>
<path d="M1304.0,1793.0L1313.1,1808.0H1294.9Z" fill="#111111" fill-opacity="0.25" stroke="#111111" stroke-width="4.2"/>
<path d="M1333.5,1787.0L1342.6,1802.0H1324.4Z" fill="#111111" fill-opacity="0.25" stroke="#111111" stroke-width="4.2"/>
<path d="M1363.0,1779.0L1372.1,1794.0H1353.9Z" fill="#111111" fill-opacity="0.25" stroke="#111111" stroke-width="4.2"/>
<path d="M1392.5,1768.5L1401.6,1783.5H1383.5Z" fill="#111111" fill-opacity="0.25" stroke="#111111" stroke-width="4.2"/>
<path d="M1422.1,1759.5L1431.2,1774.5H1413.0Z" fill="#111111" fill-opacity="0.25" stroke="#111111" stroke-width="4.2"/>
<path d="M1451.6,1745.7L1460.7,1760.8H1442.5Z" fill="#111111" fill-opacity="0.25" stroke="#111111" stroke-width="4.2"/>
<path d="M1481.1,1730.0L1490.2,1745.0H1472.0Z" fill="#111111" fill-opacity="0.25" stroke="#111111" stroke-width="4.2"/>
<path d="M1510.7,1711.2L1519.8,1726.2H1501.6Z" fill="#111111" fill-opacity="0.25" stroke="#111111" stroke-width="4.2"/>
<path d="M1540.2,1690.8L1549.3,1705.8H1531.1Z" fill="#111111" fill-opacity="0.25" stroke="#111111" stroke-width="4.2"/>
<path d="M1569.7,1663.5L1578.8,1678.5H1560.6Z" fill="#111111" fill-opacity="0.25" stroke="#111111" stroke-width="4.2"/>
<path d="M1599.3,1648.5L1608.4,1663.5H1590.2Z" fill="#111111" fill-opacity="0.25" stroke="#111111" stroke-width="4.2"/>
<path d="M1628.8,1616.8L1637.9,1631.8H1619.7Z" fill="#111111" fill-opacity="0.25" stroke="#111111" stroke-width="4.2"/>
<path d="M1658.3,1593.0L1667.4,1608.0H1649.2Z" fill="#111111" fill-opacity="0.25" stroke="#111111" stroke-width="4.2"/>
<path d="M1687.9,1558.5L1697.0,1573.5H1678.8Z" fill="#111111" fill-opacity="0.25" stroke="#111111" stroke-width="4.2"/>
<path d="M1717.4,1519.8L1726.5,1534.8H1708.3Z" fill="#111111" fill-opacity="0.25" stroke="#111111" stroke-width="4.2"/>
<path d="M1746.9,1480.3L1756.0,1495.3H1737.8Z" fill="#111111" fill-opacity="0.25" stroke="#111111" stroke-width="4.2"/>
<path d="M1776.4,1450.1L1785.5,1465.1H1767.3Z" fill="#111111" fill-opacity="0.25" stroke="#111111" stroke-width="4.2"/>
<path d="M1806.0,1412.5L1815.1,1427.5H1796.9Z" fill="#111111" fill-opacity="0.25" stroke="#111111" stroke-width="4.2"/>
<path d="M1835.5,1385.8L1844.6,1400.8H1826.4Z" fill="#111111" fill-opacity="0.25" stroke="#111111" stroke-width="4.2"/>
</g>
<g><polyline points="565.7,580.4 595.2,793.3 624.8,971.0 654.3,1130.7 683.8,1263.6 713.4,1368.5 742.9,1461.5 772.4,1533.5 802.0,1590.2 831.5,1635.8 861.0,1672.9 890.5,1706.0 920.1,1728.6 949.6,1747.9 979.1,1761.0 1008.7,1772.0 1038.2,1782.0 1067.7,1789.4 1097.2,1794.4 1126.8,1798.1 1156.3,1801.1 1185.8,1802.6 1215.4,1801.9 1244.9,1799.4 1274.4,1795.7 1304.0,1790.7 1333.5,1783.2 1363.0,1773.3 1392.5,1760.5 1422.1,1746.0 1451.6,1729.3 1481.1,1712.0 1510.7,1694.2 1540.2,1672.2 1569.7,1645.6 1599.3,1619.6 1628.8,1598.5 1658.3,1563.6 1687.9,1527.0 1717.4,1487.2 1746.9,1446.9 1776.4,1418.0 1806.0,1382.0 1835.5,1361.3" fill="none" stroke="#ff5cff" stroke-width="1.8"/>
<path d="M565.7,586.9L574.8,571.9H556.6Z" fill="#ff1aff" fill-opacity="0.25" stroke="#ff1aff" stroke-width="4.2"/>
<path d="M595.2,799.8L604.3,784.8H586.1Z" fill="#ff1aff" fill-opacity="0.25" stroke="#ff1aff" stroke-width="4.2"/>
<path d="M624.8,977.5L633.9,962.5H615.7Z" fill="#ff1aff" fill-opacity="0.25" stroke="#ff1aff" stroke-width="4.2"/>
<path d="M654.3,1137.2L663.4,1122.2H645.2Z" fill="#ff1aff" fill-opacity="0.25" stroke="#ff1aff" stroke-width="4.2"/>
<path d="M683.8,1270.1L692.9,1255.0H674.7Z" fill="#ff1aff" fill-opacity="0.25" stroke="#ff1aff" stroke-width="4.2"/>
<path d="M713.4,1375.0L722.5,1360.0H704.3Z" fill="#ff1aff" fill-opacity="0.25" stroke="#ff1aff" stroke-width="4.2"/>
<path d="M742.9,1468.0L752.0,1453.0H733.8Z" fill="#ff1aff" fill-opacity="0.25" stroke="#ff1aff" stroke-width="4.2"/>
<path d="M772.4,1540.0L781.5,1525.0H763.3Z" fill="#ff1aff" fill-opacity="0.25" stroke="#ff1aff" stroke-width="4.2"/>
<path d="M802.0,1596.7L811.1,1581.7H792.9Z" fill="#ff1aff" fill-opacity="0.25" stroke="#ff1aff" stroke-width="4.2"/>
<path d="M831.5,1642.3L840.6,1627.2H822.4Z" fill="#ff1aff" fill-opacity="0.25" stroke="#ff1aff" stroke-width="4.2"/>
<path d="M861.0,1679.4L870.1,1664.4H851.9Z" fill="#ff1aff" fill-opacity="0.25" stroke="#ff1aff" stroke-width="4.2"/>
<path d="M890.5,1712.5L899.6,1697.5H881.4Z" fill="#ff1aff" fill-opacity="0.25" stroke="#ff1aff" stroke-width="4.2"/>
<path d="M920.1,1735.1L929.2,1720.0H911.0Z" fill="#ff1aff" fill-opacity="0.25" stroke="#ff1aff" stroke-width="4.2"/>
<path d="M949.6,1754.4L958.7,1739.4H940.5Z" fill="#ff1aff" fill-opacity="0.25" stroke="#ff1aff" stroke-width="4.2"/>
<path d="M979.1,1767.5L988.2,1752.5H970.0Z" fill="#ff1aff" fill-opacity="0.25" stroke="#ff1aff" stroke-width="4.2"/>
<path d="M1008.7,1778.5L1017.8,1763.5H999.6Z" fill="#ff1aff" fill-opacity="0.25" stroke="#ff1aff" stroke-width="4.2"/>
<path d="M1038.2,1788.5L1047.3,1773.5H1029.1Z" fill="#ff1aff" fill-opacity="0.25" stroke="#ff1aff" stroke-width="4.2"/>
<path d="M1067.7,1795.9L1076.8,1780.9H1058.6Z" fill="#ff1aff" fill-opacity="0.25" stroke="#ff1aff" stroke-width="4.2"/>
<path d="M1097.2,1800.9L1106.3,1785.9H1088.2Z" fill="#ff1aff" fill-opacity="0.25" stroke="#ff1aff" stroke-width="4.2"/>
<path d="M1126.8,1804.6L1135.9,1789.5H1117.7Z" fill="#ff1aff" fill-opacity="0.25" stroke="#ff1aff" stroke-width="4.2"/>
<path d="M1156.3,1807.6L1165.4,1792.5H1147.2Z" fill="#ff1aff" fill-opacity="0.25" stroke="#ff1aff" stroke-width="4.2"/>
<path d="M1185.8,1809.1L1194.9,1794.0H1176.7Z" fill="#ff1aff" fill-opacity="0.25" stroke="#ff1aff" stroke-width="4.2"/>
<path d="M1215.4,1808.4L1224.5,1793.4H1206.3Z" fill="#ff1aff" fill-opacity="0.25" stroke="#ff1aff" stroke-width="4.2"/>
<path d="M1244.9,1805.9L1254.0,1790.9H1235.8Z" fill="#ff1aff" fill-opacity="0.25" stroke="#ff1aff" stroke-width="4.2"/>
<path d="M1274.4,1802.2L1283.5,1787.2H1265.3Z" fill="#ff1aff" fill-opacity="0.25" stroke="#ff1aff" stroke-width="4.2"/>
<path d="M1304.0,1797.2L1313.1,1782.2H1294.9Z" fill="#ff1aff" fill-opacity="0.25" stroke="#ff1aff" stroke-width="4.2"/>
<path d="M1333.5,1789.7L1342.6,1774.7H1324.4Z" fill="#ff1aff" fill-opacity="0.25" stroke="#ff1aff" stroke-width="4.2"/>
<path d="M1363.0,1779.8L1372.1,1764.8H1353.9Z" fill="#ff1aff" fill-opacity="0.25" stroke="#ff1aff" stroke-width="4.2"/>
<path d="M1392.5,1767.0L1401.6,1752.0H1383.5Z" fill="#ff1aff" fill-opacity="0.25" stroke="#ff1aff" stroke-width="4.2"/>
<path d="M1422.1,1752.5L1431.2,1737.5H1413.0Z" fill="#ff1aff" fill-opacity="0.25" stroke="#ff1aff" stroke-width="4.2"/>
<path d="M1451.6,1735.8L1460.7,1720.8H1442.5Z" fill="#ff1aff" fill-opacity="0.25" stroke="#ff1aff" stroke-width="4.2"/>
<path d="M1481.1,1718.5L1490.2,1703.5H1472.0Z" fill="#ff1aff" fill-opacity="0.25" stroke="#ff1aff" stroke-width="4.2"/>
<path d="M1510.7,1700.7L1519.8,1685.7H1501.6Z" fill="#ff1aff" fill-opacity="0.25" stroke="#ff1aff" stroke-width="4.2"/>
<path d="M1540.2,1678.7L1549.3,1663.7H1531.1Z" fill="#ff1aff" fill-opacity="0.25" stroke="#ff1aff" stroke-width="4.2"/>
<path d="M1569.7,1652.1L1578.8,1637.0H1560.6Z" fill="#ff1aff" fill-opacity="0.25" stroke="#ff1aff" stroke-width="4.2"/>
<path d="M1599.3,1626.1L1608.4,1611.0H1590.2Z" fill="#ff1aff" fill-opacity="0.25" stroke="#ff1aff" stroke-width="4.2"/>
<path d="M1628.8,1605.0L1637.9,1590.0H1619.7Z" fill="#ff1aff" fill-opacity="0.25" stroke="#ff1aff" stroke-width="4.2"/>
<path d="M1658.3,1570.1L1667.4,1555.0H1649.2Z" fill="#ff1aff" fill-opacity="0.25" stroke="#ff1aff" stroke-width="4.2"/>
<path d="M1687.9,1533.5L1697.0,1518.5H1678.8Z" fill="#ff1aff" fill-opacity="0.25" stroke="#ff1aff" stroke-width="4.2"/>
<path d="M1717.4,1493.7L1726.5,1478.7H1708.3Z" fill="#ff1aff" fill-opacity="0.25" stroke="#ff1aff" stroke-width="4.2"/>
<path d="M1746.9,1453.4L1756.0,1438.4H1737.8Z" fill="#ff1aff" fill-opacity="0.25" stroke="#ff1aff" stroke-width="4.2"/>
<path d="M1776.4,1424.5L1785.5,1409.5H1767.3Z" fill="#ff1aff" fill-opacity="0.25" stroke="#ff1aff" stroke-width="4.2"/>
<path d="M1806.0,1388.5L1815.1,1373.5H1796.9Z" fill="#ff1aff" fill-opacity="0.25" stroke="#ff1aff" stroke-width="4.2"/>
<path d="M1835.5,1367.8L1844.6,1352.8H1826.4Z" fill="#ff1aff" fill-opacity="0.25" stroke="#ff1aff" stroke-width="4.2"/>
</g>
<g><polyline points="565.7,302.4 595.2,554.6 624.8,753.6 654.3,951.0 683.8,1097.6 713.4,1236.1 742.9,1353.4 772.4,1442.2 802.0,1511.7 831.5,1573.9 861.0,1622.8 890.5,1663.4 920.1,1694.7 949.6,1719.1 979.1,1739.1 1008.7,1754.7 1038.2,1766.6 1067.7,1775.8 1097.2,1783.2 1126.8,1787.0 1156.3,1790.7 1185.8,1793.2 1215.4,1791.9 1244.9,1788.2 1274.4,1784.0 1304.0,1779.5 1333.5,1773.3 1363.0,1759.6 1392.5,1747.0 1422.1,1731.0 1451.6,1713.6 1481.1,1694.2 1510.7,1674.4 1540.2,1651.8 1569.7,1620.5 1599.3,1592.3 1628.8,1565.5 1658.3,1528.8 1687.9,1490.3 1717.4,1446.4 1746.9,1406.2 1776.4,1379.0 1806.0,1348.6 1835.5,1331.7" fill="none" stroke="#4a4aa6" stroke-width="1.8"/>
<polygon points="565.7,291.5 568.9,296.9 575.1,296.9 572.0,302.4 575.1,307.8 568.9,307.8 565.7,313.3 562.6,307.8 556.3,307.8 559.4,302.4 556.3,296.9 562.6,296.9" fill="#15158c" fill-opacity="0.28" stroke="#15158c" stroke-width="2.7"/>
<polygon points="595.2,543.7 598.4,549.1 604.7,549.1 601.5,554.6 604.7,560.1 598.4,560.1 595.2,565.5 592.1,560.1 585.8,560.1 588.9,554.6 585.8,549.1 592.1,549.1" fill="#15158c" fill-opacity="0.28" stroke="#15158c" stroke-width="2.7"/>
<polygon points="624.8,742.7 627.9,748.1 634.2,748.1 631.1,753.6 634.2,759.1 627.9,759.1 624.8,764.5 621.6,759.1 615.3,759.1 618.5,753.6 615.3,748.1 621.6,748.1" fill="#15158c" fill-opacity="0.28" stroke="#15158c" stroke-width="2.7"/>
<polygon points="654.3,940.1 657.4,945.5 663.7,945.5 660.6,951.0 663.7,956.5 657.4,956.5 654.3,961.9 651.2,956.5 644.9,956.5 648.0,951.0 644.9,945.5 651.2,945.5" fill="#15158c" fill-opacity="0.28" stroke="#15158c" stroke-width="2.7"/>
<polygon points="683.8,1086.7 687.0,1092.1 693.3,1092.1 690.1,1097.6 693.3,1103.0 687.0,1103.0 683.8,1108.5 680.7,1103.0 674.4,1103.0 677.5,1097.6 674.4,1092.1 680.7,1092.1" fill="#15158c" fill-opacity="0.28" stroke="#15158c" stroke-width="2.7"/>
<polygon points="713.4,1225.2 716.5,1230.6 722.8,1230.6 719.7,1236.1 722.8,1241.5 716.5,1241.5 713.4,1247.0 710.2,1241.5 703.9,1241.5 707.1,1236.1 703.9,1230.6 710.2,1230.6" fill="#15158c" fill-opacity="0.28" stroke="#15158c" stroke-width="2.7"/>
<polygon points="742.9,1342.5 746.0,1348.0 752.3,1348.0 749.2,1353.4 752.3,1358.9 746.0,1358.9 742.9,1364.3 739.7,1358.9 733.5,1358.9 736.6,1353.4 733.5,1348.0 739.7,1348.0" fill="#15158c" fill-opacity="0.28" stroke="#15158c" stroke-width="2.7"/>
<polygon points="772.4,1431.3 775.6,1436.8 781.9,1436.8 778.7,1442.2 781.9,1447.7 775.6,1447.7 772.4,1453.1 769.3,1447.7 763.0,1447.7 766.1,1442.2 763.0,1436.8 769.3,1436.8" fill="#15158c" fill-opacity="0.28" stroke="#15158c" stroke-width="2.7"/>
<polygon points="802.0,1500.8 805.1,1506.2 811.4,1506.2 808.2,1511.7 811.4,1517.2 805.1,1517.2 802.0,1522.6 798.8,1517.2 792.5,1517.2 795.7,1511.7 792.5,1506.2 798.8,1506.2" fill="#15158c" fill-opacity="0.28" stroke="#15158c" stroke-width="2.7"/>
<polygon points="831.5,1563.0 834.6,1568.5 840.9,1568.5 837.8,1573.9 840.9,1579.4 834.6,1579.4 831.5,1584.8 828.3,1579.4 822.0,1579.4 825.2,1573.9 822.0,1568.5 828.3,1568.5" fill="#15158c" fill-opacity="0.28" stroke="#15158c" stroke-width="2.7"/>
<polygon points="861.0,1611.9 864.2,1617.3 870.4,1617.3 867.3,1622.8 870.4,1628.2 864.2,1628.2 861.0,1633.7 857.9,1628.2 851.6,1628.2 854.7,1622.8 851.6,1617.3 857.9,1617.3" fill="#15158c" fill-opacity="0.28" stroke="#15158c" stroke-width="2.7"/>
<polygon points="890.5,1652.5 893.7,1658.0 900.0,1658.0 896.8,1663.4 900.0,1668.9 893.7,1668.9 890.5,1674.3 887.4,1668.9 881.1,1668.9 884.2,1663.4 881.1,1658.0 887.4,1658.0" fill="#15158c" fill-opacity="0.28" stroke="#15158c" stroke-width="2.7"/>
<polygon points="920.1,1683.8 923.2,1689.2 929.5,1689.2 926.4,1694.7 929.5,1700.2 923.2,1700.2 920.1,1705.6 916.9,1700.2 910.6,1700.2 913.8,1694.7 910.6,1689.2 916.9,1689.2" fill="#15158c" fill-opacity="0.28" stroke="#15158c" stroke-width="2.7"/>
<polygon points="949.6,1708.2 952.7,1713.6 959.0,1713.6 955.9,1719.1 959.0,1724.5 952.7,1724.5 949.6,1730.0 946.5,1724.5 940.2,1724.5 943.3,1719.1 940.2,1713.6 946.5,1713.6" fill="#15158c" fill-opacity="0.28" stroke="#15158c" stroke-width="2.7"/>
<polygon points="979.1,1728.2 982.3,1733.6 988.6,1733.6 985.4,1739.1 988.6,1744.5 982.3,1744.5 979.1,1750.0 976.0,1744.5 969.7,1744.5 972.8,1739.1 969.7,1733.6 976.0,1733.6" fill="#15158c" fill-opacity="0.28" stroke="#15158c" stroke-width="2.7"/>
<polygon points="1008.7,1743.8 1011.8,1749.2 1018.1,1749.2 1015.0,1754.7 1018.1,1760.2 1011.8,1760.2 1008.7,1765.6 1005.5,1760.2 999.2,1760.2 1002.4,1754.7 999.2,1749.2 1005.5,1749.2" fill="#15158c" fill-opacity="0.28" stroke="#15158c" stroke-width="2.7"/>
<polygon points="1038.2,1755.7 1041.3,1761.1 1047.6,1761.1 1044.5,1766.6 1047.6,1772.0 1041.3,1772.0 1038.2,1777.5 1035.0,1772.0 1028.8,1772.0 1031.9,1766.6 1028.8,1761.1 1035.0,1761.1" fill="#15158c" fill-opacity="0.28" stroke="#15158c" stroke-width="2.7"/>
<polygon points="1067.7,1764.9 1070.9,1770.3 1077.2,1770.3 1074.0,1775.8 1077.2,1781.2 1070.9,1781.2 1067.7,1786.7 1064.6,1781.2 1058.3,1781.2 1061.4,1775.8 1058.3,1770.3 1064.6,1770.3" fill="#15158c" fill-opacity="0.28" stroke="#15158c" stroke-width="2.7"/>
<polygon points="1097.2,1772.3 1100.4,1777.8 1106.7,1777.8 1103.5,1783.2 1106.7,1788.7 1100.4,1788.7 1097.2,1794.1 1094.1,1788.7 1087.8,1788.7 1091.0,1783.2 1087.8,1777.8 1094.1,1777.8" fill="#15158c" fill-opacity="0.28" stroke="#15158c" stroke-width="2.7"/>
<polygon points="1126.8,1776.1 1129.9,1781.5 1136.2,1781.5 1133.1,1787.0 1136.2,1792.5 1129.9,1792.5 1126.8,1797.9 1123.6,1792.5 1117.3,1792.5 1120.5,1787.0 1117.3,1781.5 1123.6,1781.5" fill="#15158c" fill-opacity="0.28" stroke="#15158c" stroke-width="2.7"/>
<polygon points="1156.3,1779.8 1159.5,1785.2 1165.7,1785.2 1162.6,1790.7 1165.7,1796.2 1159.5,1796.2 1156.3,1801.6 1153.2,1796.2 1146.9,1796.2 1150.0,1790.7 1146.9,1785.2 1153.2,1785.2" fill="#15158c" fill-opacity="0.28" stroke="#15158c" stroke-width="2.7"/>
<polygon points="1185.8,1782.3 1189.0,1787.8 1195.3,1787.8 1192.1,1793.2 1195.3,1798.7 1189.0,1798.7 1185.8,1804.1 1182.7,1798.7 1176.4,1798.7 1179.5,1793.2 1176.4,1787.8 1182.7,1787.8" fill="#15158c" fill-opacity="0.28" stroke="#15158c" stroke-width="2.7"/>
<polygon points="1215.4,1781.0 1218.5,1786.5 1224.8,1786.5 1221.7,1791.9 1224.8,1797.4 1218.5,1797.4 1215.4,1802.8 1212.2,1797.4 1205.9,1797.4 1209.1,1791.9 1205.9,1786.5 1212.2,1786.5" fill="#15158c" fill-opacity="0.28" stroke="#15158c" stroke-width="2.7"/>
<polygon points="1244.9,1777.3 1248.0,1782.8 1254.3,1782.8 1251.2,1788.2 1254.3,1793.7 1248.0,1793.7 1244.9,1799.1 1241.8,1793.7 1235.5,1793.7 1238.6,1788.2 1235.5,1782.8 1241.8,1782.8" fill="#15158c" fill-opacity="0.28" stroke="#15158c" stroke-width="2.7"/>
<polygon points="1274.4,1773.1 1277.6,1778.5 1283.9,1778.5 1280.7,1784.0 1283.9,1789.5 1277.6,1789.5 1274.4,1794.9 1271.3,1789.5 1265.0,1789.5 1268.1,1784.0 1265.0,1778.5 1271.3,1778.5" fill="#15158c" fill-opacity="0.28" stroke="#15158c" stroke-width="2.7"/>
<polygon points="1304.0,1768.6 1307.1,1774.0 1313.4,1774.0 1310.3,1779.5 1313.4,1785.0 1307.1,1785.0 1304.0,1790.4 1300.8,1785.0 1294.5,1785.0 1297.7,1779.5 1294.5,1774.0 1300.8,1774.0" fill="#15158c" fill-opacity="0.28" stroke="#15158c" stroke-width="2.7"/>
<polygon points="1333.5,1762.4 1336.6,1767.8 1342.9,1767.8 1339.8,1773.3 1342.9,1778.8 1336.6,1778.8 1333.5,1784.2 1330.3,1778.8 1324.1,1778.8 1327.2,1773.3 1324.1,1767.8 1330.3,1767.8" fill="#15158c" fill-opacity="0.28" stroke="#15158c" stroke-width="2.7"/>
<polygon points="1363.0,1748.7 1366.2,1754.1 1372.5,1754.1 1369.3,1759.6 1372.5,1765.0 1366.2,1765.0 1363.0,1770.5 1359.9,1765.0 1353.6,1765.0 1356.7,1759.6 1353.6,1754.1 1359.9,1754.1" fill="#15158c" fill-opacity="0.28" stroke="#15158c" stroke-width="2.7"/>
<polygon points="1392.5,1736.1 1395.7,1741.5 1402.0,1741.5 1398.8,1747.0 1402.0,1752.5 1395.7,1752.5 1392.5,1757.9 1389.4,1752.5 1383.1,1752.5 1386.3,1747.0 1383.1,1741.5 1389.4,1741.5" fill="#15158c" fill-opacity="0.28" stroke="#15158c" stroke-width="2.7"/>
<polygon points="1422.1,1720.1 1425.2,1725.5 1431.5,1725.5 1428.4,1731.0 1431.5,1736.5 1425.2,1736.5 1422.1,1741.9 1418.9,1736.5 1412.6,1736.5 1415.8,1731.0 1412.6,1725.5 1418.9,1725.5" fill="#15158c" fill-opacity="0.28" stroke="#15158c" stroke-width="2.7"/>
<polygon points="1451.6,1702.7 1454.8,1708.1 1461.0,1708.1 1457.9,1713.6 1461.0,1719.0 1454.8,1719.0 1451.6,1724.5 1448.5,1719.0 1442.2,1719.0 1445.3,1713.6 1442.2,1708.1 1448.5,1708.1" fill="#15158c" fill-opacity="0.28" stroke="#15158c" stroke-width="2.7"/>
<polygon points="1481.1,1683.3 1484.3,1688.8 1490.6,1688.8 1487.4,1694.2 1490.6,1699.7 1484.3,1699.7 1481.1,1705.1 1478.0,1699.7 1471.7,1699.7 1474.8,1694.2 1471.7,1688.8 1478.0,1688.8" fill="#15158c" fill-opacity="0.28" stroke="#15158c" stroke-width="2.7"/>
<polygon points="1510.7,1663.5 1513.8,1669.0 1520.1,1669.0 1517.0,1674.4 1520.1,1679.9 1513.8,1679.9 1510.7,1685.3 1507.5,1679.9 1501.2,1679.9 1504.4,1674.4 1501.2,1669.0 1507.5,1669.0" fill="#15158c" fill-opacity="0.28" stroke="#15158c" stroke-width="2.7"/>
<polygon points="1540.2,1640.9 1543.3,1646.3 1549.6,1646.3 1546.5,1651.8 1549.6,1657.2 1543.3,1657.2 1540.2,1662.7 1537.1,1657.2 1530.8,1657.2 1533.9,1651.8 1530.8,1646.3 1537.1,1646.3" fill="#15158c" fill-opacity="0.28" stroke="#15158c" stroke-width="2.7"/>
<polygon points="1569.7,1609.6 1572.9,1615.0 1579.2,1615.0 1576.0,1620.5 1579.2,1626.0 1572.9,1626.0 1569.7,1631.4 1566.6,1626.0 1560.3,1626.0 1563.4,1620.5 1560.3,1615.0 1566.6,1615.0" fill="#15158c" fill-opacity="0.28" stroke="#15158c" stroke-width="2.7"/>
<polygon points="1599.3,1581.4 1602.4,1586.8 1608.7,1586.8 1605.6,1592.3 1608.7,1597.8 1602.4,1597.8 1599.3,1603.2 1596.1,1597.8 1589.8,1597.8 1593.0,1592.3 1589.8,1586.8 1596.1,1586.8" fill="#15158c" fill-opacity="0.28" stroke="#15158c" stroke-width="2.7"/>
<polygon points="1628.8,1554.6 1631.9,1560.0 1638.2,1560.0 1635.1,1565.5 1638.2,1571.0 1631.9,1571.0 1628.8,1576.4 1625.6,1571.0 1619.4,1571.0 1622.5,1565.5 1619.4,1560.0 1625.6,1560.0" fill="#15158c" fill-opacity="0.28" stroke="#15158c" stroke-width="2.7"/>
<polygon points="1658.3,1517.9 1661.5,1523.3 1667.8,1523.3 1664.6,1528.8 1667.8,1534.2 1661.5,1534.2 1658.3,1539.7 1655.2,1534.2 1648.9,1534.2 1652.0,1528.8 1648.9,1523.3 1655.2,1523.3" fill="#15158c" fill-opacity="0.28" stroke="#15158c" stroke-width="2.7"/>
<polygon points="1687.9,1479.4 1691.0,1484.8 1697.3,1484.8 1694.1,1490.3 1697.3,1495.8 1691.0,1495.8 1687.9,1501.2 1684.7,1495.8 1678.4,1495.8 1681.6,1490.3 1678.4,1484.8 1684.7,1484.8" fill="#15158c" fill-opacity="0.28" stroke="#15158c" stroke-width="2.7"/>
<polygon points="1717.4,1435.5 1720.5,1441.0 1726.8,1441.0 1723.7,1446.4 1726.8,1451.9 1720.5,1451.9 1717.4,1457.3 1714.2,1451.9 1707.9,1451.9 1711.1,1446.4 1707.9,1441.0 1714.2,1441.0" fill="#15158c" fill-opacity="0.28" stroke="#15158c" stroke-width="2.7"/>
<polygon points="1746.9,1395.3 1750.1,1400.8 1756.3,1400.8 1753.2,1406.2 1756.3,1411.7 1750.1,1411.7 1746.9,1417.1 1743.8,1411.7 1737.5,1411.7 1740.6,1406.2 1737.5,1400.8 1743.8,1400.8" fill="#15158c" fill-opacity="0.28" stroke="#15158c" stroke-width="2.7"/>
<polygon points="1776.4,1368.1 1779.6,1373.5 1785.9,1373.5 1782.7,1379.0 1785.9,1384.5 1779.6,1384.5 1776.4,1389.9 1773.3,1384.5 1767.0,1384.5 1770.1,1379.0 1767.0,1373.5 1773.3,1373.5" fill="#15158c" fill-opacity="0.28" stroke="#15158c" stroke-width="2.7"/>
<polygon points="1806.0,1337.7 1809.1,1343.1 1815.4,1343.1 1812.3,1348.6 1815.4,1354.0 1809.1,1354.0 1806.0,1359.5 1802.8,1354.0 1796.5,1354.0 1799.7,1348.6 1796.5,1343.1 1802.8,1343.1" fill="#15158c" fill-opacity="0.28" stroke="#15158c" stroke-width="2.7"/>
<polygon points="1835.5,1320.8 1838.6,1326.2 1844.9,1326.2 1841.8,1331.7 1844.9,1337.2 1838.6,1337.2 1835.5,1342.6 1832.4,1337.2 1826.1,1337.2 1829.2,1331.7 1826.1,1326.2 1832.4,1326.2" fill="#15158c" fill-opacity="0.28" stroke="#15158c" stroke-width="2.7"/>
</g>
<path d="M358.3,68.2V1845.5" stroke="#111" stroke-width="5.2" fill="none"/>
<path d="M298.3,1843.0H2133.6" stroke="#111" stroke-width="5.0" fill="none"/>
<path d="M298.3,71.2H359.0M328.3,292.7H359.0M298.3,514.2H359.0M328.3,735.6H359.0M298.3,957.1H359.0M328.3,1178.6H359.0M298.3,1400.1H359.0M328.3,1621.5H359.0M298.3,1843.0H359.0M359.0,1843.0V1904.5M447.9,1843.0V1874.0M499.9,1843.0V1874.0M536.8,1843.0V1874.0M565.4,1843.0V1874.0M588.8,1843.0V1874.0M608.6,1843.0V1874.0M625.7,1843.0V1874.0M640.8,1843.0V1874.0M654.3,1843.0V1904.5M743.2,1843.0V1874.0M795.2,1843.0V1874.0M832.1,1843.0V1874.0M860.7,1843.0V1874.0M884.1,1843.0V1874.0M903.9,1843.0V1874.0M921.0,1843.0V1874.0M936.1,1843.0V1874.0M949.6,1843.0V1904.5M1038.5,1843.0V1874.0M1090.5,1843.0V1874.0M1127.4,1843.0V1874.0M1156.0,1843.0V1874.0M1179.4,1843.0V1874.0M1199.2,1843.0V1874.0M1216.3,1843.0V1874.0M1231.4,1843.0V1874.0M1244.9,1843.0V1904.5M1333.8,1843.0V1874.0M1385.8,1843.0V1874.0M1422.7,1843.0V1874.0M1451.3,1843.0V1874.0M1474.7,1843.0V1874.0M1494.5,1843.0V1874.0M1511.6,1843.0V1874.0M1526.7,1843.0V1874.0M1540.2,1843.0V1904.5M1629.1,1843.0V1874.0M1681.1,1843.0V1874.0M1718.0,1843.0V1874.0M1746.6,1843.0V1874.0M1770.0,1843.0V1874.0M1789.8,1843.0V1874.0M1806.9,1843.0V1874.0M1822.0,1843.0V1874.0M1835.5,1843.0V1904.5M1924.4,1843.0V1874.0M1976.4,1843.0V1874.0M2013.3,1843.0V1874.0M2041.9,1843.0V1874.0M2065.3,1843.0V1874.0M2085.1,1843.0V1874.0M2102.2,1843.0V1874.0M2117.3,1843.0V1874.0M2130.8,1843.0V1904.5" stroke="#1c1c1c" stroke-width="5.6" fill="none"/>
<text transform="translate(150.25,100.00) scale(0.9560,1)" font-size="93.5" stroke="#fff" stroke-width="0.88">-50</text>
<text transform="translate(150.25,542.95) scale(0.9560,1)" font-size="93.5" stroke="#fff" stroke-width="0.88">-60</text>
<text transform="translate(150.25,985.90) scale(0.9560,1)" font-size="93.5" stroke="#fff" stroke-width="0.88">-70</text>
<text transform="translate(150.25,1428.85) scale(0.9560,1)" font-size="93.5" stroke="#fff" stroke-width="0.88">-80</text>
<text transform="translate(150.25,1871.80) scale(0.9560,1)" font-size="93.5" stroke="#fff" stroke-width="0.88">-90</text>
<text transform="translate(301.38,2023.40) scale(0.9508,1)" font-size="94" stroke="#fff" stroke-width="0.88">10</text>
<text transform="translate(390.75,1978.80) scale(1.0000,1)" font-size="52" stroke="#fff" stroke-width="0.17">1</text>
<text transform="translate(596.68,2023.40) scale(0.9508,1)" font-size="94" stroke="#fff" stroke-width="0.88">10</text>
<text transform="translate(685.39,1978.80) scale(1.0000,1)" font-size="52" stroke="#fff" stroke-width="0.17">2</text>
<text transform="translate(891.98,2023.40) scale(0.9508,1)" font-size="94" stroke="#fff" stroke-width="0.88">10</text>
<text transform="translate(980.43,1978.80) scale(1.0000,1)" font-size="52" stroke="#fff" stroke-width="0.17">3</text>
<text transform="translate(1187.28,2023.40) scale(0.9508,1)" font-size="94" stroke="#fff" stroke-width="0.88">10</text>
<text transform="translate(1277.16,1978.80) scale(1.0000,1)" font-size="52" stroke="#fff" stroke-width="0.17">4</text>
<text transform="translate(1482.58,2023.40) scale(0.9508,1)" font-size="94" stroke="#fff" stroke-width="0.88">10</text>
<text transform="translate(1570.51,1978.80) scale(1.0000,1)" font-size="52" stroke="#fff" stroke-width="0.17">5</text>
<text transform="translate(1777.88,2023.40) scale(0.9508,1)" font-size="94" stroke="#fff" stroke-width="0.88">10</text>
<text transform="translate(1866.59,1978.80) scale(1.0000,1)" font-size="52" stroke="#fff" stroke-width="0.17">6</text>
<text transform="translate(2073.18,2023.40) scale(0.9508,1)" font-size="94" stroke="#fff" stroke-width="0.88">10</text>
<text transform="translate(2160.72,1978.80) scale(1.0000,1)" font-size="52" stroke="#fff" stroke-width="0.17">7</text>
<text transform="translate(1140.45,2124.00) scale(1.1245,1)" font-size="93" font-style="italic" stroke="#fff" stroke-width="0.87">f</text>
<text transform="translate(1177.62,2124.00) scale(0.8244,1)" font-size="93" stroke="#fff" stroke-width="0.87">,</text>
<text transform="translate(1217.47,2124.00) scale(0.9900,1)" font-size="93" stroke="#fff" stroke-width="0.87">Hz</text>
<text transform="translate(114.36,1035.21) rotate(-90) scale(0.9655,1)" font-size="93.5" stroke="#fff" stroke-width="0.88">Θ</text>
<text transform="translate(117.51,966.92) rotate(-90) scale(1.0053,1)" font-size="93.5" stroke="#fff" stroke-width="0.88">,</text>
<text transform="translate(83.12,920.55) rotate(-90) scale(0.9850,1)" font-size="47" style="font-family:DejaVu Sans,sans-serif" fill="#8a8a8a">○</text>
<rect x="744.8" y="118.3" width="777.4" height="429.6" fill="#fff" stroke="#444" stroke-width="2.6"/>
<text transform="translate(913.16,196.70) scale(0.9647,1)" font-size="94.7" font-weight="bold" stroke="#fff" stroke-width="0.90">Zn-SiO</text>
<text transform="translate(1200.17,220.40) scale(0.9968,1)" font-size="52.7" font-weight="bold" stroke="#fff" stroke-width="0.18">2</text>
<text transform="translate(1227.01,196.70) scale(0.9659,1)" font-size="94.7" font-weight="bold" stroke="#fff" stroke-width="0.90">/Si</text>
<text transform="translate(774.89,290.30) scale(1.0013,1)" font-size="64.7" font-weight="bold" stroke="#fff" stroke-width="0.39">Ion</text>
<text transform="translate(887.77,290.30) scale(1.0159,1)" font-size="64.7" font-weight="bold" stroke="#fff" stroke-width="0.39">dose:</text>
<text transform="translate(1048.03,290.30) scale(1.0262,1)" font-size="64" stroke="#fff" stroke-width="0.37">7.5</text>
<text transform="translate(1146.33,282.50) scale(1.1594,1)" font-size="46" fill="#444" stroke="#fff" stroke-width="0.07">×</text>
<text transform="translate(1188.12,290.30) scale(0.9607,1)" font-size="64" stroke="#fff" stroke-width="0.37">10</text>
<text transform="translate(1252.38,268.80) scale(0.9691,1)" font-size="38">16</text>
<text transform="translate(1300.90,290.30) scale(1.0141,1)" font-size="64" stroke="#fff" stroke-width="0.37">ion/cm</text>
<text transform="translate(1480.88,268.50) scale(1.1246,1)" font-size="38">2</text>
<text transform="translate(841.09,362.30) scale(1.0057,1)" font-size="64.7" font-weight="bold" stroke="#fff" stroke-width="0.39">Ion</text>
<text transform="translate(953.39,362.30) scale(1.0214,1)" font-size="64.7" font-weight="bold" stroke="#fff" stroke-width="0.39">energy:</text>
<text transform="translate(1183.81,362.60) scale(0.9989,1)" font-size="64" stroke="#fff" stroke-width="0.37">150</text>
<text transform="translate(1295.70,362.60) scale(1.0149,1)" font-size="64" stroke="#fff" stroke-width="0.37">keV</text>
<text transform="translate(975.12,442.20) scale(1.0344,1)" font-size="74" font-style="italic" stroke="#fff" stroke-width="0.54">T</text>
<text transform="translate(1015.73,458.10) scale(1.0250,1)" font-size="37.5">impl</text>
<text transform="translate(1083.70,431.12) scale(1.3138,0.7389)" font-size="64" fill="#9a9a9a" stroke="#9a9a9a" stroke-width="1.32">=</text>
<text transform="translate(1128.25,443.20) scale(0.9815,1)" font-size="65" stroke="#fff" stroke-width="0.39">773</text>
<text transform="translate(1242.52,443.20) scale(1.0533,1)" font-size="65" stroke="#fff" stroke-width="0.39">K</text>
<text transform="translate(974.82,533.20) scale(1.0298,1)" font-size="64" stroke="#fff" stroke-width="0.37">nonannealed</text>
<rect x="821.6" y="602" width="1084.6" height="492.4" fill="#fff" stroke="#555" stroke-width="2.6"/>
<path d="M862.7,692.6h150.4" stroke="#9ccab2" stroke-width="3.6" fill="none"/>
<path d="M937.6,674.9L960.0,713.7H915.2Z" fill="none" stroke="#1d7a48" stroke-width="5.5"/>
<text transform="translate(1053.85,710.90) scale(1.0431,1)" font-size="76" font-style="italic" stroke="#fff" stroke-width="0.58">T</text>
<text transform="translate(1094.45,729.30) scale(1.0124,1)" font-size="49.5" stroke="#fff" stroke-width="0.13">p</text>
<text transform="translate(1114.00,700.18) scale(1.1064,0.6482)" font-size="76" fill="#9a9a9a" stroke="#9a9a9a" stroke-width="1.36">=</text>
<text transform="translate(1158.30,711.10) scale(0.9321,1)" font-size="76" stroke="#fff" stroke-width="0.58">73</text>
<text transform="translate(1249.07,711.10) scale(1.0181,1)" font-size="76" stroke="#fff" stroke-width="0.58">K</text>
<path d="M862.7,801.2h150.4" stroke="#9ccab2" stroke-width="3.6" fill="none"/>
<path d="M911.0,800.3H964.2M937.6,772.3V828.3" fill="none" stroke="#0b6b36" stroke-width="6.0"/>
<text transform="translate(1053.85,819.20) scale(1.0431,1)" font-size="76" font-style="italic" stroke="#fff" stroke-width="0.58">T</text>
<text transform="translate(1094.45,837.60) scale(1.0124,1)" font-size="49.5" stroke="#fff" stroke-width="0.13">p</text>
<text transform="translate(1114.00,808.48) scale(1.1064,0.6482)" font-size="76" fill="#9a9a9a" stroke="#9a9a9a" stroke-width="1.36">=</text>
<text transform="translate(1160.31,819.40) scale(0.9267,1)" font-size="76" stroke="#fff" stroke-width="0.58">97</text>
<text transform="translate(1249.07,819.40) scale(1.0181,1)" font-size="76" stroke="#fff" stroke-width="0.58">K</text>
<path d="M862.7,910.4h150.4" stroke="#ffb27a" stroke-width="3.4" fill="none"/>
<path d="M937.6,929.3L960.0,890.5H915.2Z" fill="none" stroke="#ff6a0a" stroke-width="5.5"/>
<text transform="translate(1053.85,929.60) scale(1.0431,1)" font-size="76" font-style="italic" stroke="#fff" stroke-width="0.58">T</text>
<text transform="translate(1094.45,948.00) scale(1.0124,1)" font-size="49.5" stroke="#fff" stroke-width="0.13">p</text>
<text transform="translate(1114.00,918.88) scale(1.1064,0.6482)" font-size="76" fill="#9a9a9a" stroke="#9a9a9a" stroke-width="1.36">=</text>
<text transform="translate(1161.07,929.80) scale(0.9213,1)" font-size="76" stroke="#fff" stroke-width="0.58">121</text>
<text transform="translate(1285.40,929.80) scale(1.0507,1)" font-size="76" stroke="#fff" stroke-width="0.58">K</text>
<path d="M862.7,1019.4h150.4" stroke="#cf8ae8" stroke-width="3.4" fill="none"/>
<rect x="913.4" y="995.2" width="48.4" height="49.2" fill="none" stroke="#9a14cc" stroke-width="6.0"/>
<text transform="translate(1053.85,1038.10) scale(1.0431,1)" font-size="76" font-style="italic" stroke="#fff" stroke-width="0.58">T</text>
<text transform="translate(1094.45,1056.50) scale(1.0124,1)" font-size="49.5" stroke="#fff" stroke-width="0.13">p</text>
<text transform="translate(1114.00,1027.38) scale(1.1064,0.6482)" font-size="76" fill="#9a9a9a" stroke="#9a9a9a" stroke-width="1.36">=</text>
<text transform="translate(1160.95,1038.30) scale(0.9405,1)" font-size="76" stroke="#fff" stroke-width="0.58">145</text>
<text transform="translate(1285.40,1038.30) scale(1.0507,1)" font-size="76" stroke="#fff" stroke-width="0.58">K</text>
<path d="M1395.8,692.6h150.4" stroke="#c6ff80" stroke-width="3.4" fill="none"/>
<polygon points="1470.9,668.0 1478.0,680.3 1492.2,680.3 1485.1,692.6 1492.2,704.9 1478.0,704.9 1470.9,717.2 1463.8,704.9 1449.6,704.9 1456.7,692.6 1449.6,680.3 1463.8,680.3" fill="none" stroke="#8cff1a" stroke-width="3.2"/>
<text transform="translate(1587.95,710.90) scale(1.0431,1)" font-size="76" font-style="italic" stroke="#fff" stroke-width="0.58">T</text>
<text transform="translate(1628.55,729.30) scale(1.0124,1)" font-size="49.5" stroke="#fff" stroke-width="0.13">p</text>
<text transform="translate(1648.10,700.18) scale(1.1064,0.6482)" font-size="76" fill="#9a9a9a" stroke="#9a9a9a" stroke-width="1.36">=</text>
<text transform="translate(1695.68,711.10) scale(0.9050,1)" font-size="76" stroke="#fff" stroke-width="0.58">193</text>
<text transform="translate(1819.67,711.10) scale(1.0181,1)" font-size="76" stroke="#fff" stroke-width="0.58">K</text>
<path d="M1395.8,801.2h150.4" stroke="#9a9a9a" stroke-width="4.2" fill="none"/>
<path d="M1470.9,783.5L1493.3,822.3H1448.5Z" fill="none" stroke="#111111" stroke-width="5.5"/>
<text transform="translate(1587.95,819.20) scale(1.0431,1)" font-size="76" font-style="italic" stroke="#fff" stroke-width="0.58">T</text>
<text transform="translate(1628.55,837.60) scale(1.0124,1)" font-size="49.5" stroke="#fff" stroke-width="0.13">p</text>
<text transform="translate(1648.10,808.48) scale(1.1064,0.6482)" font-size="76" fill="#9a9a9a" stroke="#9a9a9a" stroke-width="1.36">=</text>
<text transform="translate(1691.05,819.40) scale(0.9765,1)" font-size="76" stroke="#fff" stroke-width="0.58">249</text>
<text transform="translate(1819.67,819.40) scale(1.0181,1)" font-size="76" stroke="#fff" stroke-width="0.58">K</text>
<path d="M1395.8,910.4h150.4" stroke="#ff66ff" stroke-width="3.4" fill="none"/>
<path d="M1470.9,929.3L1493.3,890.5H1448.5Z" fill="none" stroke="#ff1aff" stroke-width="5.5"/>
<text transform="translate(1587.95,929.60) scale(1.0431,1)" font-size="76" font-style="italic" stroke="#fff" stroke-width="0.58">T</text>
<text transform="translate(1628.55,948.00) scale(1.0124,1)" font-size="49.5" stroke="#fff" stroke-width="0.13">p</text>
<text transform="translate(1648.10,918.88) scale(1.1064,0.6482)" font-size="76" fill="#9a9a9a" stroke="#9a9a9a" stroke-width="1.36">=</text>
<text transform="translate(1691.18,929.80) scale(0.9359,1)" font-size="76" stroke="#fff" stroke-width="0.58">291</text>
<text transform="translate(1819.67,929.80) scale(1.0181,1)" font-size="76" stroke="#fff" stroke-width="0.58">K</text>
<path d="M1395.8,1019.4h150.4" stroke="#5a5aae" stroke-width="3.4" fill="none"/>
<polygon points="1470.9,994.8 1478.0,1007.1 1492.2,1007.1 1485.1,1019.4 1492.2,1031.7 1478.0,1031.7 1470.9,1044.0 1463.8,1031.7 1449.6,1031.7 1456.7,1019.4 1449.6,1007.1 1463.8,1007.1" fill="none" stroke="#15158c" stroke-width="3.2"/>
<text transform="translate(1587.95,1038.10) scale(1.0431,1)" font-size="76" font-style="italic" stroke="#fff" stroke-width="0.58">T</text>
<text transform="translate(1628.55,1056.50) scale(1.0124,1)" font-size="49.5" stroke="#fff" stroke-width="0.13">p</text>
<text transform="translate(1648.10,1027.38) scale(1.1064,0.6482)" font-size="76" fill="#9a9a9a" stroke="#9a9a9a" stroke-width="1.36">=</text>
<text transform="translate(1691.60,1038.30) scale(0.9418,1)" font-size="76" stroke="#fff" stroke-width="0.58">333</text>
<text transform="translate(1819.67,1038.30) scale(1.0181,1)" font-size="76" stroke="#fff" stroke-width="0.58">K</text>
</g></svg></body></html>
